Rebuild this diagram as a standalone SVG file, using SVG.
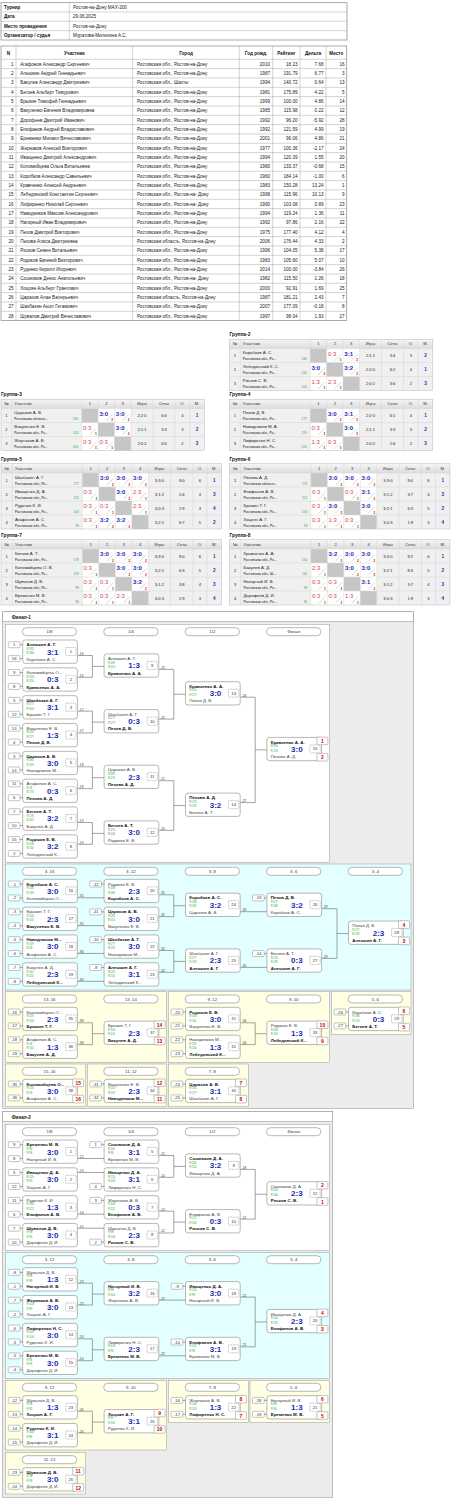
<svg xmlns="http://www.w3.org/2000/svg" width="454" height="1500" viewBox="0 0 454 1500">
<style>
text{font-family:"Liberation Sans",Arial,Helvetica,sans-serif}
.tt{font-size:4.6px;fill:#222}
.th{font-size:4.6px;font-weight:bold;fill:#111}
.e{text-anchor:end}
.m{text-anchor:middle}
.tl{fill:none;stroke:#a8a8a8;stroke-width:0.5}
.to{fill:#fff;stroke:#888;stroke-width:0.7}
.gt{font-size:4.8px;font-weight:bold;fill:#111}
.gh{font-size:4.1px;fill:#333}
.gn{font-size:4.3px;fill:#222}
.gs{font-size:3.1px;font-weight:bold;fill:#555}
.gr{font-size:3.2px;fill:#3a3;text-anchor:end}
.gv{font-size:4.1px;fill:#222;text-anchor:middle}
.gp{font-size:4.6px;font-weight:bold;fill:#2233bb;text-anchor:middle}
.ws{font-size:6px;font-weight:bold;fill:#1e2db5}
.ls{font-size:6px;fill:#d34b4b}
.k2{font-size:3.2px;font-weight:bold;fill:#d00}
.k1{font-size:3.2px;font-weight:bold;fill:#900}
.gb{fill:#f0f0f0}
.gw{fill:#fff}
.dg{fill:#c6c6c6}
.gl{fill:none;stroke:#d6d6d6;stroke-width:0.5}
.go{fill:none;stroke:#bbb;stroke-width:0.5}
.sls{stroke:#999;stroke-width:0.4}
.fr{fill:#ececec;stroke:#999;stroke-width:0.6}
.ftb{fill:#fff;stroke:#999;stroke-width:0.6}
.ft{font-size:4.6px;font-weight:bold;fill:#111}
.sw{fill:#fff;stroke:#999;stroke-width:0.5}
.sc{fill:#e3ffff;stroke:#999;stroke-width:0.5}
.sy{fill:#ffffe3;stroke:#999;stroke-width:0.5}
.mb{fill:#fff;stroke:#888;stroke-width:0.6}
.dx{fill:#fff;stroke:#777;stroke-width:0.45;stroke-dasharray:1 0.6}
.nb{font-size:4.4px;font-weight:bold;fill:#111}
.nn{font-size:4.4px;fill:#444}
.rt{font-size:2.7px;fill:#2a2}
.sco{font-size:8px;font-weight:bold;fill:#1c2cb4;text-anchor:middle}
.mn{font-size:4.2px;fill:#333;text-anchor:middle}
.sd{fill:#fff;stroke:#888;stroke-width:0.5}
.sdt{font-size:4.2px;fill:#333;text-anchor:middle}
.pb{fill:#fff;stroke:#888;stroke-width:0.5}
.pt{font-size:5px;font-weight:bold;fill:#c00;text-anchor:middle}
.cn{fill:none;stroke:#666;stroke-width:0.6}
.lb{font-size:3.2px;fill:#333}
.pill{fill:#fff;stroke:#888;stroke-width:0.6}
.plt{font-size:4.3px;fill:#333;text-anchor:middle}
</style>
<defs>
<linearGradient id="hg" x1="0" y1="0" x2="0" y2="1"><stop offset="0" stop-color="#f6f6f6"/><stop offset="1" stop-color="#dcdcdc"/></linearGradient>
<line id="sl" class="sls" x1="8" y1="12.2" x2="14.3" y2="5.8"/>
<g id="bx"><rect class="mb" width="54.7" height="23.3" rx="2.5"/><rect class="dx" x="43" y="7.5" width="10.3" height="8" rx="0.8"/></g>
<g id="sT"><rect class="sd" x="-14.4" y="1.7" width="11.7" height="6" rx="1"/><line class="cn" x1="-2.7" y1="4.7" x2="0" y2="4.7"/></g>
<g id="sB"><rect class="sd" x="-14.4" y="15.6" width="11.7" height="6" rx="1"/><line class="cn" x1="-2.7" y1="18.6" x2="0" y2="18.6"/></g>
<rect id="pT" class="pb" x="50" y="-0.3" width="11" height="7.6" rx="0.8"/>
<rect id="pB" class="pb" x="50" y="16" width="11" height="7.6" rx="0.8"/>
<rect id="pl" class="pill" width="54.4" height="8" rx="4"/>
</defs>
<rect width="454" height="1500" fill="#fff"/>

<g id="info">
<rect class="to" x="1" y="2.7" width="346" height="37.3"/>
<path class="tl" d="M1 12H347M1 21.3H347M1 30.7H347M69.3 2.7V40"/>
<text class="th" x="4" y="9">Турнир</text><text class="tt" x="73" y="9">Ростов-на-Дону MAX-200</text>
<text class="th" x="4" y="18.3">Дата</text><text class="tt" x="73" y="18.3">29.06.2025</text>
<text class="th" x="4" y="27.7">Место проведения</text><text class="tt" x="73" y="27.7">Ростов-на-Дону</text>
<text class="th" x="4" y="37">Организатор / судья</text><text class="tt" x="73" y="37">Муратова-Милехина А.С.</text>
</g>

<g id="results">
<rect class="to" x="1" y="46" width="345.7" height="274.6"/>
<path class="tl" d="M1 59.3H346.7M1 68.63H346.7M1 77.97H346.7M1 87.3H346.7M1 96.63H346.7M1 105.97H346.7M1 115.3H346.7M1 124.63H346.7M1 133.97H346.7M1 143.3H346.7M1 152.63H346.7M1 161.97H346.7M1 171.3H346.7M1 180.63H346.7M1 189.97H346.7M1 199.3H346.7M1 208.63H346.7M1 217.97H346.7M1 227.3H346.7M1 236.63H346.7M1 245.97H346.7M1 255.3H346.7M1 264.63H346.7M1 273.97H346.7M1 283.3H346.7M1 292.63H346.7M1 301.97H346.7M1 311.3H346.7M16 46V320.6M132.7 46V320.6M239.3 46V320.6M272.7 46V320.6M300 46V320.6M326 46V320.6"/>
<text class="th m" x="8.5" y="54.5">N</text>
<text class="th m" x="74.3" y="54.5">Участник</text>
<text class="th m" x="186" y="54.5">Город</text>
<text class="th m" x="256" y="54.5">Год рожд.</text>
<text class="th m" x="286.3" y="54.5">Рейтинг</text>
<text class="th m" x="313" y="54.5">Дельта</text>
<text class="th m" x="336.3" y="54.5">Место</text>
<text class="tt e"><tspan x="13.5" y="65.6">1</tspan><tspan x="13.5" dy="9.333">2</tspan><tspan x="13.5" dy="9.333">3</tspan><tspan x="13.5" dy="9.333">4</tspan><tspan x="13.5" dy="9.333">5</tspan><tspan x="13.5" dy="9.333">6</tspan><tspan x="13.5" dy="9.333">7</tspan><tspan x="13.5" dy="9.333">8</tspan><tspan x="13.5" dy="9.333">9</tspan><tspan x="13.5" dy="9.333">10</tspan><tspan x="13.5" dy="9.333">11</tspan><tspan x="13.5" dy="9.333">12</tspan><tspan x="13.5" dy="9.333">13</tspan><tspan x="13.5" dy="9.333">14</tspan><tspan x="13.5" dy="9.333">15</tspan><tspan x="13.5" dy="9.333">16</tspan><tspan x="13.5" dy="9.333">17</tspan><tspan x="13.5" dy="9.333">18</tspan><tspan x="13.5" dy="9.333">19</tspan><tspan x="13.5" dy="9.333">20</tspan><tspan x="13.5" dy="9.333">21</tspan><tspan x="13.5" dy="9.333">22</tspan><tspan x="13.5" dy="9.333">23</tspan><tspan x="13.5" dy="9.333">24</tspan><tspan x="13.5" dy="9.333">25</tspan><tspan x="13.5" dy="9.333">26</tspan><tspan x="13.5" dy="9.333">27</tspan><tspan x="13.5" dy="9.333">28</tspan></text>
<text class="tt"><tspan x="20.3" y="65.6">Агафонов Александр Сергеевич</tspan><tspan x="20.3" dy="9.333">Алешкин Андрей Геннадьевич</tspan><tspan x="20.3" dy="9.333">Бакулев Александр Дмитриевич</tspan><tspan x="20.3" dy="9.333">Бегоев Альберт Тимурович</tspan><tspan x="20.3" dy="9.333">Брыкин Тимофей Геннадьевич</tspan><tspan x="20.3" dy="9.333">Вакуленко Евгения Владимировна</tspan><tspan x="20.3" dy="9.333">Дорофеев Дмитрий Иванович</tspan><tspan x="20.3" dy="9.333">Епифанов Андрей Владиславович</tspan><tspan x="20.3" dy="9.333">Еременко Михаил Вячеславович</tspan><tspan x="20.3" dy="9.333">Жернаков Алексей Викторович</tspan><tspan x="20.3" dy="9.333">Иващенко Дмитрий Александрович</tspan><tspan x="20.3" dy="9.333">Коломийцева Ольга Витальевна</tspan><tspan x="20.3" dy="9.333">Коробков Александр Савельевич</tspan><tspan x="20.3" dy="9.333">Кравченко Алексей Андреевич</tspan><tspan x="20.3" dy="9.333">Лебединский Константин Сергеевич</tspan><tspan x="20.3" dy="9.333">Лифиренко Николай Сергеевич</tspan><tspan x="20.3" dy="9.333">Наводников Максим Александрович</tspan><tspan x="20.3" dy="9.333">Нагорный Иван Владимирович</tspan><tspan x="20.3" dy="9.333">Пехов Дмитрий Викторович</tspan><tspan x="20.3" dy="9.333">Пехова Алиса Дмитриевна</tspan><tspan x="20.3" dy="9.333">Рисков Семен Витальевич</tspan><tspan x="20.3" dy="9.333">Родиков Евгений Викторович</tspan><tspan x="20.3" dy="9.333">Руденко Кирилл Игоревич</tspan><tspan x="20.3" dy="9.333">Сошников Денис Анатольевич</tspan><tspan x="20.3" dy="9.333">Хоцоян Альберт Грантович</tspan><tspan x="20.3" dy="9.333">Царахов Алан Валерьевич</tspan><tspan x="20.3" dy="9.333">Шахбазян Ашот Гегамович</tspan><tspan x="20.3" dy="9.333">Шувалов Дмитрий Вячеславович</tspan></text>
<text class="tt"><tspan x="137" y="65.6">Ростовская обл., Ростов-на-Дону</tspan><tspan x="137" dy="9.333">Ростовская обл., Ростов-на-Дону</tspan><tspan x="137" dy="9.333">Ростовская обл., Шахты</tspan><tspan x="137" dy="9.333">Ростовская обл., Ростов-на-Дону</tspan><tspan x="137" dy="9.333">Ростовская обл., Ростов-на-Дону</tspan><tspan x="137" dy="9.333">Ростовская обл., Ростов-на-Дону</tspan><tspan x="137" dy="9.333">Ростовская обл., Ростов-на-Дону</tspan><tspan x="137" dy="9.333">Ростовская обл., Ростов-на-Дону</tspan><tspan x="137" dy="9.333">Ростовская обл., Ростов-на-Дону</tspan><tspan x="137" dy="9.333">Ростовская обл., Ростов-на-Дону</tspan><tspan x="137" dy="9.333">Ростовская обл., Ростов-на-Дону</tspan><tspan x="137" dy="9.333">Ростовская обл., Ростов-на-Дону</tspan><tspan x="137" dy="9.333">Ростовская обл., Ростов-на-Дону</tspan><tspan x="137" dy="9.333">Ростовская обл., Ростов-на-Дону</tspan><tspan x="137" dy="9.333">Ростовская обл., Ростов-на- Дону</tspan><tspan x="137" dy="9.333">Ростовская обл., Ростов-на- Дону</tspan><tspan x="137" dy="9.333">Ростовская обл., Ростов-на-Дону</tspan><tspan x="137" dy="9.333">Ростовская обл., Ростов-на-Дону</tspan><tspan x="137" dy="9.333">Ростовская обл., Ростов-на-Дону</tspan><tspan x="137" dy="9.333">Ростовская область, Ростов-на-Дону</tspan><tspan x="137" dy="9.333">Ростовская обл., Ростов-на-Дону</tspan><tspan x="137" dy="9.333">Ростовская обл., Ростов-на-Дону</tspan><tspan x="137" dy="9.333">Ростовская обл., Ростов-на-Дону</tspan><tspan x="137" dy="9.333">Ростовская обл., Ростов-на- Дону</tspan><tspan x="137" dy="9.333">Ростовская обл., Ростов-на-Дону</tspan><tspan x="137" dy="9.333">Ростовская область, Ростов-на-Дону</tspan><tspan x="137" dy="9.333">Ростовская обл., Ростов-на-Дону</tspan><tspan x="137" dy="9.333">Ростовская обл., Ростов-на-Дону</tspan></text>
<text class="tt e"><tspan x="270" y="65.6">2010</tspan><tspan x="270" dy="9.333">1987</tspan><tspan x="270" dy="9.333">1994</tspan><tspan x="270" dy="9.333">1981</tspan><tspan x="270" dy="9.333">1999</tspan><tspan x="270" dy="9.333">1985</tspan><tspan x="270" dy="9.333">1992</tspan><tspan x="270" dy="9.333">1992</tspan><tspan x="270" dy="9.333">2001</tspan><tspan x="270" dy="9.333">1977</tspan><tspan x="270" dy="9.333">1994</tspan><tspan x="270" dy="9.333">1980</tspan><tspan x="270" dy="9.333">1960</tspan><tspan x="270" dy="9.333">1983</tspan><tspan x="270" dy="9.333">1998</tspan><tspan x="270" dy="9.333">1990</tspan><tspan x="270" dy="9.333">1994</tspan><tspan x="270" dy="9.333">1992</tspan><tspan x="270" dy="9.333">1975</tspan><tspan x="270" dy="9.333">2006</tspan><tspan x="270" dy="9.333">1996</tspan><tspan x="270" dy="9.333">1983</tspan><tspan x="270" dy="9.333">2014</tspan><tspan x="270" dy="9.333">1982</tspan><tspan x="270" dy="9.333">2000</tspan><tspan x="270" dy="9.333">1987</tspan><tspan x="270" dy="9.333">2007</tspan><tspan x="270" dy="9.333">1997</tspan></text>
<text class="tt e"><tspan x="297.5" y="65.6">18.23</tspan><tspan x="297.5" dy="9.333">191.79</tspan><tspan x="297.5" dy="9.333">140.72</tspan><tspan x="297.5" dy="9.333">175.89</tspan><tspan x="297.5" dy="9.333">100.00</tspan><tspan x="297.5" dy="9.333">115.98</tspan><tspan x="297.5" dy="9.333">96.20</tspan><tspan x="297.5" dy="9.333">121.59</tspan><tspan x="297.5" dy="9.333">96.06</tspan><tspan x="297.5" dy="9.333">100.36</tspan><tspan x="297.5" dy="9.333">120.39</tspan><tspan x="297.5" dy="9.333">133.37</tspan><tspan x="297.5" dy="9.333">184.14</tspan><tspan x="297.5" dy="9.333">150.28</tspan><tspan x="297.5" dy="9.333">115.96</tspan><tspan x="297.5" dy="9.333">103.08</tspan><tspan x="297.5" dy="9.333">119.24</tspan><tspan x="297.5" dy="9.333">97.86</tspan><tspan x="297.5" dy="9.333">177.40</tspan><tspan x="297.5" dy="9.333">176.44</tspan><tspan x="297.5" dy="9.333">104.05</tspan><tspan x="297.5" dy="9.333">105.60</tspan><tspan x="297.5" dy="9.333">100.00</tspan><tspan x="297.5" dy="9.333">115.50</tspan><tspan x="297.5" dy="9.333">92.91</tspan><tspan x="297.5" dy="9.333">181.21</tspan><tspan x="297.5" dy="9.333">177.09</tspan><tspan x="297.5" dy="9.333">98.04</tspan></text>
<text class="tt e"><tspan x="323.5" y="65.6">7.68</tspan><tspan x="323.5" dy="9.333">6.77</tspan><tspan x="323.5" dy="9.333">0.64</tspan><tspan x="323.5" dy="9.333">4.22</tspan><tspan x="323.5" dy="9.333">4.86</tspan><tspan x="323.5" dy="9.333">0.22</tspan><tspan x="323.5" dy="9.333">-5.92</tspan><tspan x="323.5" dy="9.333">4.99</tspan><tspan x="323.5" dy="9.333">4.86</tspan><tspan x="323.5" dy="9.333">-2.17</tspan><tspan x="323.5" dy="9.333">1.55</tspan><tspan x="323.5" dy="9.333">-0.68</tspan><tspan x="323.5" dy="9.333">-1.00</tspan><tspan x="323.5" dy="9.333">13.24</tspan><tspan x="323.5" dy="9.333">10.13</tspan><tspan x="323.5" dy="9.333">0.89</tspan><tspan x="323.5" dy="9.333">1.36</tspan><tspan x="323.5" dy="9.333">2.16</tspan><tspan x="323.5" dy="9.333">4.12</tspan><tspan x="323.5" dy="9.333">4.33</tspan><tspan x="323.5" dy="9.333">5.38</tspan><tspan x="323.5" dy="9.333">5.07</tspan><tspan x="323.5" dy="9.333">-3.84</tspan><tspan x="323.5" dy="9.333">1.26</tspan><tspan x="323.5" dy="9.333">1.69</tspan><tspan x="323.5" dy="9.333">2.43</tspan><tspan x="323.5" dy="9.333">-0.18</tspan><tspan x="323.5" dy="9.333">1.93</tspan></text>
<text class="tt e"><tspan x="344.5" y="65.6">16</tspan><tspan x="344.5" dy="9.333">3</tspan><tspan x="344.5" dy="9.333">13</tspan><tspan x="344.5" dy="9.333">5</tspan><tspan x="344.5" dy="9.333">14</tspan><tspan x="344.5" dy="9.333">12</tspan><tspan x="344.5" dy="9.333">28</tspan><tspan x="344.5" dy="9.333">19</tspan><tspan x="344.5" dy="9.333">21</tspan><tspan x="344.5" dy="9.333">24</tspan><tspan x="344.5" dy="9.333">20</tspan><tspan x="344.5" dy="9.333">15</tspan><tspan x="344.5" dy="9.333">6</tspan><tspan x="344.5" dy="9.333">1</tspan><tspan x="344.5" dy="9.333">9</tspan><tspan x="344.5" dy="9.333">23</tspan><tspan x="344.5" dy="9.333">11</tspan><tspan x="344.5" dy="9.333">22</tspan><tspan x="344.5" dy="9.333">4</tspan><tspan x="344.5" dy="9.333">2</tspan><tspan x="344.5" dy="9.333">17</tspan><tspan x="344.5" dy="9.333">10</tspan><tspan x="344.5" dy="9.333">26</tspan><tspan x="344.5" dy="9.333">18</tspan><tspan x="344.5" dy="9.333">25</tspan><tspan x="344.5" dy="9.333">7</tspan><tspan x="344.5" dy="9.333">8</tspan><tspan x="344.5" dy="9.333">27</tspan></text>
</g>

<g id="group2">
<text class="gt" x="229.5" y="336.3">Группа-2</text>
<g transform="translate(229.5 339.3)">
<rect class="gb" width="203.3" height="51.3"/><rect fill="url(#hg)" width="203.3" height="9.3"/>
<rect class="gw" x="80.7" y="9.3" width="49.3" height="42"/>
<rect class="dg" x="80.7" y="9.3" width="16.4" height="14"/><rect class="dg" x="97.1" y="23.3" width="16.4" height="14"/><rect class="dg" x="113.5" y="37.3" width="16.5" height="14"/>
<path class="gl" d="M0 9.3H203.3M0 23.3H203.3M0 37.3H203.3M10.7 0V51.3M80.7 0V51.3M97.1 0V51.3M113.5 0V51.3M130 0V51.3M152 0V51.3M174 0V51.3M188.7 0V51.3"/>
<rect class="go" width="203.3" height="51.3"/>
<text class="gh m" x="5.35" y="6.2">№</text><text class="gh" x="13.3" y="6.2">Участник</text><text class="gh m" x="88.9" y="6.2">1</text><text class="gh m" x="105.3" y="6.2">2</text><text class="gh m" x="121.75" y="6.2">3</text><text class="gh m" x="141" y="6.2">Игры</text><text class="gh m" x="163" y="6.2">Сеты</text><text class="gh m" x="181.35" y="6.2">О.</text><text class="gh m" x="196" y="6.2">М.</text>
<text class="gv" x="5.35" y="18">1</text><text class="gn" x="13.3" y="15.1">Коробков А. С.</text><text class="gs" x="13.3" y="20.9">Ростовская обл., Ро...</text><text class="gr" x="77.2" y="20.9">184</text>
<text class="ls" x="98.4" y="16.3">0:3</text><use href="#sl" x="97.1" y="9.3"/><text class="k1" x="110.3" y="22.1">1</text>
<text class="ws" x="114.8" y="16.3">3:1</text><use href="#sl" x="113.5" y="9.3"/><text class="k2" x="126.7" y="22.1">2</text>
<text class="gv" x="141" y="18">2;1:1</text><text class="gv" x="163" y="18">3:4</text><text class="gv" x="181.35" y="18">3</text><text class="gp" x="196" y="18.2">2</text>
<text class="gv" x="5.35" y="32">2</text><text class="gn" x="13.3" y="29.1">Лебединский К. С.</text><text class="gs" x="13.3" y="34.9">Ростовская обл., Ро...</text><text class="gr" x="77.2" y="34.9">116</text>
<text class="ws" x="82" y="30.3">3:0</text><use href="#sl" x="80.7" y="23.3"/><text class="k2" x="93.9" y="36.1">2</text>
<text class="ws" x="114.8" y="30.3">3:2</text><use href="#sl" x="113.5" y="23.3"/><text class="k2" x="126.7" y="36.1">2</text>
<text class="gv" x="141" y="32">2;2:0</text><text class="gv" x="163" y="32">6:2</text><text class="gv" x="181.35" y="32">4</text><text class="gp" x="196" y="32.2">1</text>
<text class="gv" x="5.35" y="46">3</text><text class="gn" x="13.3" y="43.1">Рисков С. В.</text><text class="gs" x="13.3" y="48.9">Ростовская обл., Ро...</text><text class="gr" x="77.2" y="48.9">104</text>
<text class="ls" x="82" y="44.3">1:3</text><use href="#sl" x="80.7" y="37.3"/><text class="k1" x="93.9" y="50.1">1</text>
<text class="ls" x="98.4" y="44.3">2:3</text><use href="#sl" x="97.1" y="37.3"/><text class="k1" x="110.3" y="50.1">1</text>
<text class="gv" x="141" y="46">2;0:2</text><text class="gv" x="163" y="46">3:6</text><text class="gv" x="181.35" y="46">2</text><text class="gp" x="196" y="46.2">3</text>
</g></g>

<g id="group3">
<text class="gt" x="1" y="396.3">Группа-3</text>
<g transform="translate(1 399.3)">
<rect class="gb" width="203.3" height="51.3"/><rect fill="url(#hg)" width="203.3" height="9.3"/>
<rect class="gw" x="80.7" y="9.3" width="49.3" height="42"/>
<rect class="dg" x="80.7" y="9.3" width="16.4" height="14"/><rect class="dg" x="97.1" y="23.3" width="16.4" height="14"/><rect class="dg" x="113.5" y="37.3" width="16.5" height="14"/>
<path class="gl" d="M0 9.3H203.3M0 23.3H203.3M0 37.3H203.3M10.7 0V51.3M80.7 0V51.3M97.1 0V51.3M113.5 0V51.3M130 0V51.3M152 0V51.3M174 0V51.3M188.7 0V51.3"/>
<rect class="go" width="203.3" height="51.3"/>
<text class="gh m" x="5.35" y="6.2">№</text><text class="gh" x="13.3" y="6.2">Участник</text><text class="gh m" x="88.9" y="6.2">1</text><text class="gh m" x="105.3" y="6.2">2</text><text class="gh m" x="121.75" y="6.2">3</text><text class="gh m" x="141" y="6.2">Игры</text><text class="gh m" x="163" y="6.2">Сеты</text><text class="gh m" x="181.35" y="6.2">О.</text><text class="gh m" x="196" y="6.2">М.</text>
<text class="gv" x="5.35" y="18">1</text><text class="gn" x="13.3" y="15.1">Царахов А. В.</text><text class="gs" x="13.3" y="20.9">Ростовская область...</text><text class="gr" x="77.2" y="20.9">181</text>
<text class="ws" x="98.4" y="16.3">3:0</text><use href="#sl" x="97.1" y="9.3"/><text class="k2" x="110.3" y="22.1">2</text>
<text class="ws" x="114.8" y="16.3">3:0</text><use href="#sl" x="113.5" y="9.3"/><text class="k2" x="126.7" y="22.1">2</text>
<text class="gv" x="141" y="18">2;2:0</text><text class="gv" x="163" y="18">6:0</text><text class="gv" x="181.35" y="18">4</text><text class="gp" x="196" y="18.2">1</text>
<text class="gv" x="5.35" y="32">2</text><text class="gn" x="13.3" y="29.1">Вакуленко Е. В.</text><text class="gs" x="13.3" y="34.9">Ростовская обл., Ро...</text><text class="gr" x="77.2" y="34.9">116</text>
<text class="ls" x="82" y="30.3">0:3</text><use href="#sl" x="80.7" y="23.3"/><text class="k1" x="93.9" y="36.1">1</text>
<text class="ws" x="114.8" y="30.3">3:0</text><use href="#sl" x="113.5" y="23.3"/><text class="k2" x="126.7" y="36.1">2</text>
<text class="gv" x="141" y="32">2;1:1</text><text class="gv" x="163" y="32">3:3</text><text class="gv" x="181.35" y="32">3</text><text class="gp" x="196" y="32.2">2</text>
<text class="gv" x="5.35" y="46">3</text><text class="gn" x="13.3" y="43.1">Жернаков А. В.</text><text class="gs" x="13.3" y="48.9">Ростовская обл., Ро...</text><text class="gr" x="77.2" y="48.9">100</text>
<text class="ls" x="82" y="44.3">0:3</text><use href="#sl" x="80.7" y="37.3"/><text class="k1" x="93.9" y="50.1">1</text>
<text class="ls" x="98.4" y="44.3">0:3</text><use href="#sl" x="97.1" y="37.3"/><text class="k1" x="110.3" y="50.1">1</text>
<text class="gv" x="141" y="46">2;0:2</text><text class="gv" x="163" y="46">0:6</text><text class="gv" x="181.35" y="46">2</text><text class="gp" x="196" y="46.2">3</text>
</g></g>

<g id="group4">
<text class="gt" x="229.5" y="396.3">Группа-4</text>
<g transform="translate(229.5 399.3)">
<rect class="gb" width="203.3" height="51.3"/><rect fill="url(#hg)" width="203.3" height="9.3"/>
<rect class="gw" x="80.7" y="9.3" width="49.3" height="42"/>
<rect class="dg" x="80.7" y="9.3" width="16.4" height="14"/><rect class="dg" x="97.1" y="23.3" width="16.4" height="14"/><rect class="dg" x="113.5" y="37.3" width="16.5" height="14"/>
<path class="gl" d="M0 9.3H203.3M0 23.3H203.3M0 37.3H203.3M10.7 0V51.3M80.7 0V51.3M97.1 0V51.3M113.5 0V51.3M130 0V51.3M152 0V51.3M174 0V51.3M188.7 0V51.3"/>
<rect class="go" width="203.3" height="51.3"/>
<text class="gh m" x="5.35" y="6.2">№</text><text class="gh" x="13.3" y="6.2">Участник</text><text class="gh m" x="88.9" y="6.2">1</text><text class="gh m" x="105.3" y="6.2">2</text><text class="gh m" x="121.75" y="6.2">3</text><text class="gh m" x="141" y="6.2">Игры</text><text class="gh m" x="163" y="6.2">Сеты</text><text class="gh m" x="181.35" y="6.2">О.</text><text class="gh m" x="196" y="6.2">М.</text>
<text class="gv" x="5.35" y="18">1</text><text class="gn" x="13.3" y="15.1">Пехов Д. В.</text><text class="gs" x="13.3" y="20.9">Ростовская обл., Ро...</text><text class="gr" x="77.2" y="20.9">177</text>
<text class="ws" x="98.4" y="16.3">3:0</text><use href="#sl" x="97.1" y="9.3"/><text class="k2" x="110.3" y="22.1">2</text>
<text class="ws" x="114.8" y="16.3">3:1</text><use href="#sl" x="113.5" y="9.3"/><text class="k2" x="126.7" y="22.1">2</text>
<text class="gv" x="141" y="18">2;2:0</text><text class="gv" x="163" y="18">6:1</text><text class="gv" x="181.35" y="18">4</text><text class="gp" x="196" y="18.2">1</text>
<text class="gv" x="5.35" y="32">2</text><text class="gn" x="13.3" y="29.1">Наводников М. А.</text><text class="gs" x="13.3" y="34.9">Ростовская обл., Ро...</text><text class="gr" x="77.2" y="34.9">119</text>
<text class="ls" x="82" y="30.3">0:3</text><use href="#sl" x="80.7" y="23.3"/><text class="k1" x="93.9" y="36.1">1</text>
<text class="ws" x="114.8" y="30.3">3:0</text><use href="#sl" x="113.5" y="23.3"/><text class="k2" x="126.7" y="36.1">2</text>
<text class="gv" x="141" y="32">2;1:1</text><text class="gv" x="163" y="32">3:3</text><text class="gv" x="181.35" y="32">3</text><text class="gp" x="196" y="32.2">2</text>
<text class="gv" x="5.35" y="46">3</text><text class="gn" x="13.3" y="43.1">Лифиренко Н. С.</text><text class="gs" x="13.3" y="48.9">Ростовская обл., Ро...</text><text class="gr" x="77.2" y="48.9">103</text>
<text class="ls" x="82" y="44.3">1:3</text><use href="#sl" x="80.7" y="37.3"/><text class="k1" x="93.9" y="50.1">1</text>
<text class="ls" x="98.4" y="44.3">0:3</text><use href="#sl" x="97.1" y="37.3"/><text class="k1" x="110.3" y="50.1">1</text>
<text class="gv" x="141" y="46">2;0:2</text><text class="gv" x="163" y="46">1:6</text><text class="gv" x="181.35" y="46">2</text><text class="gp" x="196" y="46.2">3</text>
</g></g>

<g id="group5">
<text class="gt" x="1" y="460.6">Группа-5</text>
<g transform="translate(1 463.7)">
<rect class="gb" width="220.5" height="65.3"/><rect fill="url(#hg)" width="220.5" height="9.3"/>
<rect class="gw" x="81.3" y="9.3" width="66" height="56"/>
<rect class="dg" x="81.3" y="9.3" width="16.5" height="14"/><rect class="dg" x="97.8" y="23.3" width="16.5" height="14"/><rect class="dg" x="114.3" y="37.3" width="16.5" height="14"/><rect class="dg" x="130.8" y="51.3" width="16.5" height="14"/>
<path class="gl" d="M0 9.3H220.5M0 23.3H220.5M0 37.3H220.5M0 51.3H220.5M11.3 0V65.3M81.3 0V65.3M97.8 0V65.3M114.3 0V65.3M130.8 0V65.3M147.3 0V65.3M169.5 0V65.3M192 0V65.3M206 0V65.3"/>
<rect class="go" width="220.5" height="65.3"/>
<text class="gh m" x="5.65" y="6.2">№</text><text class="gh" x="13.9" y="6.2">Участник</text><text class="gh m" x="89.55" y="6.2">1</text><text class="gh m" x="106.05" y="6.2">2</text><text class="gh m" x="122.55" y="6.2">3</text><text class="gh m" x="139.05" y="6.2">4</text><text class="gh m" x="158.4" y="6.2">Игры</text><text class="gh m" x="180.75" y="6.2">Сеты</text><text class="gh m" x="199" y="6.2">О.</text><text class="gh m" x="213.25" y="6.2">М.</text>
<text class="gv" x="5.65" y="18">1</text><text class="gn" x="13.9" y="15.1">Шахбазян А. Г.</text><text class="gs" x="13.9" y="20.9">Ростовская обл., Ро...</text><text class="gr" x="77.8" y="20.9">177</text>
<text class="ws" x="99.1" y="16.3">3:0</text><use href="#sl" x="97.8" y="9.3"/><text class="k2" x="111" y="22.1">2</text>
<text class="ws" x="115.6" y="16.3">3:0</text><use href="#sl" x="114.3" y="9.3"/><text class="k2" x="127.5" y="22.1">2</text>
<text class="ws" x="132.1" y="16.3">3:0</text><use href="#sl" x="130.8" y="9.3"/><text class="k2" x="144" y="22.1">2</text>
<text class="gv" x="158.4" y="18">3;3:0</text><text class="gv" x="180.75" y="18">9:0</text><text class="gv" x="199" y="18">6</text><text class="gp" x="213.25" y="18.2">1</text>
<text class="gv" x="5.65" y="32">2</text><text class="gn" x="13.9" y="29.1">Иващенко Д. А.</text><text class="gs" x="13.9" y="34.9">Ростовская обл., Ро...</text><text class="gr" x="77.8" y="34.9">120</text>
<text class="ls" x="82.6" y="30.3">0:3</text><use href="#sl" x="81.3" y="23.3"/><text class="k1" x="94.5" y="36.1">1</text>
<text class="ws" x="115.6" y="30.3">3:0</text><use href="#sl" x="114.3" y="23.3"/><text class="k2" x="127.5" y="36.1">2</text>
<text class="ls" x="132.1" y="30.3">2:3</text><use href="#sl" x="130.8" y="23.3"/><text class="k1" x="144" y="36.1">1</text>
<text class="gv" x="158.4" y="32">3;1:2</text><text class="gv" x="180.75" y="32">5:6</text><text class="gv" x="199" y="32">4</text><text class="gp" x="213.25" y="32.2">3</text>
<text class="gv" x="5.65" y="46">3</text><text class="gn" x="13.9" y="43.1">Руденко К. И.</text><text class="gs" x="13.9" y="48.9">Ростовская обл., Ро...</text><text class="gr" x="77.8" y="48.9">100</text>
<text class="ls" x="82.6" y="44.3">0:3</text><use href="#sl" x="81.3" y="37.3"/><text class="k1" x="94.5" y="50.1">1</text>
<text class="ls" x="99.1" y="44.3">0:3</text><use href="#sl" x="97.8" y="37.3"/><text class="k1" x="111" y="50.1">1</text>
<text class="ls" x="132.1" y="44.3">2:3</text><use href="#sl" x="130.8" y="37.3"/><text class="k1" x="144" y="50.1">1</text>
<text class="gv" x="158.4" y="46">3;0:3</text><text class="gv" x="180.75" y="46">2:9</text><text class="gv" x="199" y="46">3</text><text class="gp" x="213.25" y="46.2">4</text>
<text class="gv" x="5.65" y="60">4</text><text class="gn" x="13.9" y="57.1">Агафонов А. С.</text><text class="gs" x="13.9" y="62.9">Ростовская обл., Ро...</text><text class="gr" x="77.8" y="62.9">18</text>
<text class="ls" x="82.6" y="58.3">0:3</text><use href="#sl" x="81.3" y="51.3"/><text class="k1" x="94.5" y="64.1">1</text>
<text class="ws" x="99.1" y="58.3">3:2</text><use href="#sl" x="97.8" y="51.3"/><text class="k2" x="111" y="64.1">2</text>
<text class="ws" x="115.6" y="58.3">3:2</text><use href="#sl" x="114.3" y="51.3"/><text class="k2" x="127.5" y="64.1">2</text>
<text class="gv" x="158.4" y="60">3;2:1</text><text class="gv" x="180.75" y="60">6:7</text><text class="gv" x="199" y="60">5</text><text class="gp" x="213.25" y="60.2">2</text>
</g></g>

<g id="group6">
<text class="gt" x="229.5" y="460.6">Группа-6</text>
<g transform="translate(229.5 463.7)">
<rect class="gb" width="220.5" height="65.3"/><rect fill="url(#hg)" width="220.5" height="9.3"/>
<rect class="gw" x="81.3" y="9.3" width="66" height="56"/>
<rect class="dg" x="81.3" y="9.3" width="16.5" height="14"/><rect class="dg" x="97.8" y="23.3" width="16.5" height="14"/><rect class="dg" x="114.3" y="37.3" width="16.5" height="14"/><rect class="dg" x="130.8" y="51.3" width="16.5" height="14"/>
<path class="gl" d="M0 9.3H220.5M0 23.3H220.5M0 37.3H220.5M0 51.3H220.5M11.3 0V65.3M81.3 0V65.3M97.8 0V65.3M114.3 0V65.3M130.8 0V65.3M147.3 0V65.3M169.5 0V65.3M192 0V65.3M206 0V65.3"/>
<rect class="go" width="220.5" height="65.3"/>
<text class="gh m" x="5.65" y="6.2">№</text><text class="gh" x="13.9" y="6.2">Участник</text><text class="gh m" x="89.55" y="6.2">1</text><text class="gh m" x="106.05" y="6.2">2</text><text class="gh m" x="122.55" y="6.2">3</text><text class="gh m" x="139.05" y="6.2">4</text><text class="gh m" x="158.4" y="6.2">Игры</text><text class="gh m" x="180.75" y="6.2">Сеты</text><text class="gh m" x="199" y="6.2">О.</text><text class="gh m" x="213.25" y="6.2">М.</text>
<text class="gv" x="5.65" y="18">1</text><text class="gn" x="13.9" y="15.1">Пехова А. Д.</text><text class="gs" x="13.9" y="20.9">Ростовская область...</text><text class="gr" x="77.8" y="20.9">176</text>
<text class="ws" x="99.1" y="16.3">3:0</text><use href="#sl" x="97.8" y="9.3"/><text class="k2" x="111" y="22.1">2</text>
<text class="ws" x="115.6" y="16.3">3:0</text><use href="#sl" x="114.3" y="9.3"/><text class="k2" x="127.5" y="22.1">2</text>
<text class="ws" x="132.1" y="16.3">3:0</text><use href="#sl" x="130.8" y="9.3"/><text class="k2" x="144" y="22.1">2</text>
<text class="gv" x="158.4" y="18">3;3:0</text><text class="gv" x="180.75" y="18">9:0</text><text class="gv" x="199" y="18">6</text><text class="gp" x="213.25" y="18.2">1</text>
<text class="gv" x="5.65" y="32">2</text><text class="gn" x="13.9" y="29.1">Епифанов А. В.</text><text class="gs" x="13.9" y="34.9">Ростовская обл., Ро...</text><text class="gr" x="77.8" y="34.9">122</text>
<text class="ls" x="82.6" y="30.3">0:3</text><use href="#sl" x="81.3" y="23.3"/><text class="k1" x="94.5" y="36.1">1</text>
<text class="ls" x="115.6" y="30.3">0:3</text><use href="#sl" x="114.3" y="23.3"/><text class="k1" x="127.5" y="36.1">1</text>
<text class="ws" x="132.1" y="30.3">3:1</text><use href="#sl" x="130.8" y="23.3"/><text class="k2" x="144" y="36.1">2</text>
<text class="gv" x="158.4" y="32">3;1:2</text><text class="gv" x="180.75" y="32">3:7</text><text class="gv" x="199" y="32">4</text><text class="gp" x="213.25" y="32.2">3</text>
<text class="gv" x="5.65" y="46">3</text><text class="gn" x="13.9" y="43.1">Брыкин Т. Г.</text><text class="gs" x="13.9" y="48.9">Ростовская обл., Ро...</text><text class="gr" x="77.8" y="48.9">100</text>
<text class="ls" x="82.6" y="44.3">0:3</text><use href="#sl" x="81.3" y="37.3"/><text class="k1" x="94.5" y="50.1">1</text>
<text class="ws" x="99.1" y="44.3">3:0</text><use href="#sl" x="97.8" y="37.3"/><text class="k2" x="111" y="50.1">2</text>
<text class="ws" x="132.1" y="44.3">3:0</text><use href="#sl" x="130.8" y="37.3"/><text class="k2" x="144" y="50.1">2</text>
<text class="gv" x="158.4" y="46">3;2:1</text><text class="gv" x="180.75" y="46">6:3</text><text class="gv" x="199" y="46">5</text><text class="gp" x="213.25" y="46.2">2</text>
<text class="gv" x="5.65" y="60">4</text><text class="gn" x="13.9" y="57.1">Хоцоян А. Г.</text><text class="gs" x="13.9" y="62.9">Ростовская обл., Ро...</text><text class="gr" x="77.8" y="62.9">93</text>
<text class="ls" x="82.6" y="58.3">0:3</text><use href="#sl" x="81.3" y="51.3"/><text class="k1" x="94.5" y="64.1">1</text>
<text class="ls" x="99.1" y="58.3">1:3</text><use href="#sl" x="97.8" y="51.3"/><text class="k1" x="111" y="64.1">1</text>
<text class="ls" x="115.6" y="58.3">0:3</text><use href="#sl" x="114.3" y="51.3"/><text class="k1" x="127.5" y="64.1">1</text>
<text class="gv" x="158.4" y="60">3;0:3</text><text class="gv" x="180.75" y="60">1:9</text><text class="gv" x="199" y="60">3</text><text class="gp" x="213.25" y="60.2">4</text>
</g></g>

<g id="group7">
<text class="gt" x="1" y="536.7">Группа-7</text>
<g transform="translate(1 539.7)">
<rect class="gb" width="220.5" height="65.3"/><rect fill="url(#hg)" width="220.5" height="9.3"/>
<rect class="gw" x="81.3" y="9.3" width="66" height="56"/>
<rect class="dg" x="81.3" y="9.3" width="16.5" height="14"/><rect class="dg" x="97.8" y="23.3" width="16.5" height="14"/><rect class="dg" x="114.3" y="37.3" width="16.5" height="14"/><rect class="dg" x="130.8" y="51.3" width="16.5" height="14"/>
<path class="gl" d="M0 9.3H220.5M0 23.3H220.5M0 37.3H220.5M0 51.3H220.5M11.3 0V65.3M81.3 0V65.3M97.8 0V65.3M114.3 0V65.3M130.8 0V65.3M147.3 0V65.3M169.5 0V65.3M192 0V65.3M206 0V65.3"/>
<rect class="go" width="220.5" height="65.3"/>
<text class="gh m" x="5.65" y="6.2">№</text><text class="gh" x="13.9" y="6.2">Участник</text><text class="gh m" x="89.55" y="6.2">1</text><text class="gh m" x="106.05" y="6.2">2</text><text class="gh m" x="122.55" y="6.2">3</text><text class="gh m" x="139.05" y="6.2">4</text><text class="gh m" x="158.4" y="6.2">Игры</text><text class="gh m" x="180.75" y="6.2">Сеты</text><text class="gh m" x="199" y="6.2">О.</text><text class="gh m" x="213.25" y="6.2">М.</text>
<text class="gv" x="5.65" y="18">1</text><text class="gn" x="13.9" y="15.1">Бегоев А. Т.</text><text class="gs" x="13.9" y="20.9">Ростовская обл., Ро...</text><text class="gr" x="77.8" y="20.9">176</text>
<text class="ws" x="99.1" y="16.3">3:0</text><use href="#sl" x="97.8" y="9.3"/><text class="k2" x="111" y="22.1">2</text>
<text class="ws" x="115.6" y="16.3">3:0</text><use href="#sl" x="114.3" y="9.3"/><text class="k2" x="127.5" y="22.1">2</text>
<text class="ws" x="132.1" y="16.3">3:0</text><use href="#sl" x="130.8" y="9.3"/><text class="k2" x="144" y="22.1">2</text>
<text class="gv" x="158.4" y="18">3;3:0</text><text class="gv" x="180.75" y="18">9:0</text><text class="gv" x="199" y="18">6</text><text class="gp" x="213.25" y="18.2">1</text>
<text class="gv" x="5.65" y="32">2</text><text class="gn" x="13.9" y="29.1">Коломийцева О. В.</text><text class="gs" x="13.9" y="34.9">Ростовская обл., Ро...</text><text class="gr" x="77.8" y="34.9">133</text>
<text class="ls" x="82.6" y="30.3">0:3</text><use href="#sl" x="81.3" y="23.3"/><text class="k1" x="94.5" y="36.1">1</text>
<text class="ws" x="115.6" y="30.3">3:0</text><use href="#sl" x="114.3" y="23.3"/><text class="k2" x="127.5" y="36.1">2</text>
<text class="ws" x="132.1" y="30.3">3:0</text><use href="#sl" x="130.8" y="23.3"/><text class="k2" x="144" y="36.1">2</text>
<text class="gv" x="158.4" y="32">3;2:1</text><text class="gv" x="180.75" y="32">6:3</text><text class="gv" x="199" y="32">5</text><text class="gp" x="213.25" y="32.2">2</text>
<text class="gv" x="5.65" y="46">3</text><text class="gn" x="13.9" y="43.1">Шувалов Д. В.</text><text class="gs" x="13.9" y="48.9">Ростовская обл., Ро...</text><text class="gr" x="77.8" y="48.9">98</text>
<text class="ls" x="82.6" y="44.3">0:3</text><use href="#sl" x="81.3" y="37.3"/><text class="k1" x="94.5" y="50.1">1</text>
<text class="ls" x="99.1" y="44.3">0:3</text><use href="#sl" x="97.8" y="37.3"/><text class="k1" x="111" y="50.1">1</text>
<text class="ws" x="132.1" y="44.3">3:2</text><use href="#sl" x="130.8" y="37.3"/><text class="k2" x="144" y="50.1">2</text>
<text class="gv" x="158.4" y="46">3;1:2</text><text class="gv" x="180.75" y="46">3:8</text><text class="gv" x="199" y="46">4</text><text class="gp" x="213.25" y="46.2">3</text>
<text class="gv" x="5.65" y="60">4</text><text class="gn" x="13.9" y="57.1">Еременко М. В.</text><text class="gs" x="13.9" y="62.9">Ростовская обл., Ро...</text><text class="gr" x="77.8" y="62.9">96</text>
<text class="ls" x="82.6" y="58.3">0:3</text><use href="#sl" x="81.3" y="51.3"/><text class="k1" x="94.5" y="64.1">1</text>
<text class="ls" x="99.1" y="58.3">0:3</text><use href="#sl" x="97.8" y="51.3"/><text class="k1" x="111" y="64.1">1</text>
<text class="ls" x="115.6" y="58.3">2:3</text><use href="#sl" x="114.3" y="51.3"/><text class="k1" x="127.5" y="64.1">1</text>
<text class="gv" x="158.4" y="60">3;0:3</text><text class="gv" x="180.75" y="60">2:9</text><text class="gv" x="199" y="60">3</text><text class="gp" x="213.25" y="60.2">4</text>
</g></g>

<g id="group8">
<text class="gt" x="229.5" y="536.7">Группа-8</text>
<g transform="translate(229.5 539.7)">
<rect class="gb" width="220.5" height="65.3"/><rect fill="url(#hg)" width="220.5" height="9.3"/>
<rect class="gw" x="81.3" y="9.3" width="66" height="56"/>
<rect class="dg" x="81.3" y="9.3" width="16.5" height="14"/><rect class="dg" x="97.8" y="23.3" width="16.5" height="14"/><rect class="dg" x="114.3" y="37.3" width="16.5" height="14"/><rect class="dg" x="130.8" y="51.3" width="16.5" height="14"/>
<path class="gl" d="M0 9.3H220.5M0 23.3H220.5M0 37.3H220.5M0 51.3H220.5M11.3 0V65.3M81.3 0V65.3M97.8 0V65.3M114.3 0V65.3M130.8 0V65.3M147.3 0V65.3M169.5 0V65.3M192 0V65.3M206 0V65.3"/>
<rect class="go" width="220.5" height="65.3"/>
<text class="gh m" x="5.65" y="6.2">№</text><text class="gh" x="13.9" y="6.2">Участник</text><text class="gh m" x="89.55" y="6.2">1</text><text class="gh m" x="106.05" y="6.2">2</text><text class="gh m" x="122.55" y="6.2">3</text><text class="gh m" x="139.05" y="6.2">4</text><text class="gh m" x="158.4" y="6.2">Игры</text><text class="gh m" x="180.75" y="6.2">Сеты</text><text class="gh m" x="199" y="6.2">О.</text><text class="gh m" x="213.25" y="6.2">М.</text>
<text class="gv" x="5.65" y="18">1</text><text class="gn" x="13.9" y="15.1">Кравченко А. А.</text><text class="gs" x="13.9" y="20.9">Ростовская обл., Ро...</text><text class="gr" x="77.8" y="20.9">150</text>
<text class="ws" x="99.1" y="16.3">3:2</text><use href="#sl" x="97.8" y="9.3"/><text class="k2" x="111" y="22.1">2</text>
<text class="ws" x="115.6" y="16.3">3:0</text><use href="#sl" x="114.3" y="9.3"/><text class="k2" x="127.5" y="22.1">2</text>
<text class="ws" x="132.1" y="16.3">3:0</text><use href="#sl" x="130.8" y="9.3"/><text class="k2" x="144" y="22.1">2</text>
<text class="gv" x="158.4" y="18">3;3:0</text><text class="gv" x="180.75" y="18">9:2</text><text class="gv" x="199" y="18">6</text><text class="gp" x="213.25" y="18.2">1</text>
<text class="gv" x="5.65" y="32">2</text><text class="gn" x="13.9" y="29.1">Бакулев А. Д.</text><text class="gs" x="13.9" y="34.9">Ростовская обл., Ш...</text><text class="gr" x="77.8" y="34.9">141</text>
<text class="ls" x="82.6" y="30.3">2:3</text><use href="#sl" x="81.3" y="23.3"/><text class="k1" x="94.5" y="36.1">1</text>
<text class="ws" x="115.6" y="30.3">3:0</text><use href="#sl" x="114.3" y="23.3"/><text class="k2" x="127.5" y="36.1">2</text>
<text class="ws" x="132.1" y="30.3">3:0</text><use href="#sl" x="130.8" y="23.3"/><text class="k2" x="144" y="36.1">2</text>
<text class="gv" x="158.4" y="32">3;2:1</text><text class="gv" x="180.75" y="32">8:3</text><text class="gv" x="199" y="32">5</text><text class="gp" x="213.25" y="32.2">2</text>
<text class="gv" x="5.65" y="46">3</text><text class="gn" x="13.9" y="43.1">Нагорный И. В.</text><text class="gs" x="13.9" y="48.9">Ростовская обл., Ро...</text><text class="gr" x="77.8" y="48.9">98</text>
<text class="ls" x="82.6" y="44.3">0:3</text><use href="#sl" x="81.3" y="37.3"/><text class="k1" x="94.5" y="50.1">1</text>
<text class="ls" x="99.1" y="44.3">0:3</text><use href="#sl" x="97.8" y="37.3"/><text class="k1" x="111" y="50.1">1</text>
<text class="ws" x="132.1" y="44.3">3:1</text><use href="#sl" x="130.8" y="37.3"/><text class="k2" x="144" y="50.1">2</text>
<text class="gv" x="158.4" y="46">3;1:2</text><text class="gv" x="180.75" y="46">3:7</text><text class="gv" x="199" y="46">4</text><text class="gp" x="213.25" y="46.2">3</text>
<text class="gv" x="5.65" y="60">4</text><text class="gn" x="13.9" y="57.1">Дорофеев Д. И.</text><text class="gs" x="13.9" y="62.9">Ростовская обл., Ро...</text><text class="gr" x="77.8" y="62.9">96</text>
<text class="ls" x="82.6" y="58.3">0:3</text><use href="#sl" x="81.3" y="51.3"/><text class="k1" x="94.5" y="64.1">1</text>
<text class="ls" x="99.1" y="58.3">0:3</text><use href="#sl" x="97.8" y="51.3"/><text class="k1" x="111" y="64.1">1</text>
<text class="ls" x="115.6" y="58.3">1:3</text><use href="#sl" x="114.3" y="51.3"/><text class="k1" x="127.5" y="64.1">1</text>
<text class="gv" x="158.4" y="60">3;0:3</text><text class="gv" x="180.75" y="60">1:9</text><text class="gv" x="199" y="60">3</text><text class="gp" x="213.25" y="60.2">4</text>
</g></g>

<g id="final1-frame">
<rect class="fr" x="2.7" y="611.7" width="410.6" height="496.6"/>
<rect class="ftb" x="2.7" y="611.7" width="410.6" height="10"/>
<text class="ft" x="11.7" y="618.6">Финал-1</text>
<rect class="sw" x="5.7" y="624.3" width="323.6" height="238"/>
<rect class="sc" x="5.7" y="864" width="405.3" height="126"/>
<rect class="sy" x="5.7" y="991.7" width="161" height="70.6"/>
<rect class="sy" x="168.3" y="991.7" width="161" height="70.6"/>
<rect class="sy" x="331.7" y="991.7" width="79.3" height="42.6"/>
<rect class="sy" x="5.7" y="1064" width="80" height="42.3"/>
<rect class="sy" x="87.3" y="1064" width="79.4" height="42.3"/>
<rect class="sy" x="168.3" y="1064" width="80" height="42.3"/>
<use href="#pl" x="22.3" y="627.7"/><text class="plt" x="49.5" y="633.3">1/8</text>
<use href="#pl" x="103.7" y="627.7"/><text class="plt" x="130.9" y="633.3">1/4</text>
<use href="#pl" x="185.1" y="627.7"/><text class="plt" x="212.3" y="633.3">1/2</text>
<use href="#pl" x="266.5" y="627.7"/><text class="plt" x="293.7" y="633.3">Финал</text>
<use href="#pl" x="22.3" y="867.3"/><text class="plt" x="49.5" y="872.9">3..16</text>
<use href="#pl" x="103.7" y="867.3"/><text class="plt" x="130.9" y="872.9">3..12</text>
<use href="#pl" x="185.1" y="867.3"/><text class="plt" x="212.3" y="872.9">3..8</text>
<use href="#pl" x="266.5" y="867.3"/><text class="plt" x="293.7" y="872.9">3..6</text>
<use href="#pl" x="348.1" y="867.3"/><text class="plt" x="375.3" y="872.9">3..4</text>
<use href="#pl" x="22.3" y="995"/><text class="plt" x="49.5" y="1000.6">13..16</text>
<use href="#pl" x="103.7" y="995"/><text class="plt" x="130.9" y="1000.6">13..14</text>
<use href="#pl" x="185.1" y="995"/><text class="plt" x="212.3" y="1000.6">9..12</text>
<use href="#pl" x="266.5" y="995"/><text class="plt" x="293.7" y="1000.6">9..10</text>
<use href="#pl" x="348.1" y="995"/><text class="plt" x="375.3" y="1000.6">5..6</text>
<use href="#pl" x="22.3" y="1067.3"/><text class="plt" x="49.5" y="1072.9">15..16</text>
<use href="#pl" x="103.7" y="1067.3"/><text class="plt" x="130.9" y="1072.9">11..12</text>
<use href="#pl" x="185.1" y="1067.3"/><text class="plt" x="212.3" y="1072.9">7..8</text>
</g>

<g id="final2-frame">
<rect class="fr" x="2.7" y="1111.7" width="330" height="385.6"/>
<rect class="ftb" x="2.7" y="1111.7" width="330" height="10"/>
<text class="ft" x="11.7" y="1118.6">Финал-2</text>
<rect class="sw" x="5.7" y="1124.3" width="323.6" height="126.4"/>
<rect class="sc" x="5.7" y="1252.3" width="323.6" height="126"/>
<rect class="sy" x="5.7" y="1380.3" width="161" height="69.7"/>
<rect class="sy" x="168.3" y="1380.3" width="80" height="42"/>
<rect class="sy" x="250" y="1380.3" width="79.3" height="42"/>
<rect class="sy" x="5.7" y="1452.3" width="80" height="41.7"/>
<use href="#pl" x="22.3" y="1127.7"/><text class="plt" x="49.5" y="1133.3">1/8</text>
<use href="#pl" x="103.7" y="1127.7"/><text class="plt" x="130.9" y="1133.3">1/4</text>
<use href="#pl" x="185.1" y="1127.7"/><text class="plt" x="212.3" y="1133.3">1/2</text>
<use href="#pl" x="266.5" y="1127.7"/><text class="plt" x="293.7" y="1133.3">Финал</text>
<use href="#pl" x="22.3" y="1255.7"/><text class="plt" x="49.5" y="1261.3">3..12</text>
<use href="#pl" x="103.7" y="1255.7"/><text class="plt" x="130.9" y="1261.3">3..8</text>
<use href="#pl" x="185.1" y="1255.7"/><text class="plt" x="212.3" y="1261.3">3..6</text>
<use href="#pl" x="266.5" y="1255.7"/><text class="plt" x="293.7" y="1261.3">3..4</text>
<use href="#pl" x="22.3" y="1383.3"/><text class="plt" x="49.5" y="1388.9">9..12</text>
<use href="#pl" x="103.7" y="1383.3"/><text class="plt" x="130.9" y="1388.9">9..10</text>
<use href="#pl" x="185.1" y="1383.3"/><text class="plt" x="212.3" y="1388.9">7..8</text>
<use href="#pl" x="266.5" y="1383.3"/><text class="plt" x="293.7" y="1388.9">5..6</text>
<use href="#pl" x="22.3" y="1455.7"/><text class="plt" x="49.5" y="1461.3">11..12</text>
</g>

<g id="connectors">
<path class="cn" d="M77.4 655.5H92.4V677.33H77.4M92.4 666.4H104.1M77.4 711.16H92.4V732.99H77.4M92.4 722.1H104.1M77.4 766.82H92.4V788.65H77.4M92.4 777.7H104.1M77.4 822.48H92.4V844.31H77.4M92.4 833.4H104.1M158.8 669.4H173.8V719.1H158.8M173.8 694.25H185.5M158.8 780.7H173.8V830.4H158.8M173.8 805.55H185.5M240.2 697.2H255.2V802.6H240.2M255.2 749.9H266.9"/>
<path class="cn" d="M77.4 897.8H104.1M77.4 925.63H104.1M77.4 953.46H104.1M77.4 981.29H104.1M158.8 894.8H173.8V916.63H158.8M173.8 905.7H185.5M158.8 950.46H173.8V972.29H158.8M173.8 961.4H185.5M240.2 911.7H266.9M240.2 967.4H266.9M321.6 908.7H337V958.4H321.6M337 933.55H348.5"/>
<path class="cn" d="M77.4 1022.8H92.4V1044.63H77.4M92.4 1033.7H104.1M240.2 1022.8H255.2V1044.63H240.2M255.2 1033.7H266.9"/>
<path class="cn" d="M77.4 1158.5H104.1M77.4 1172.53H104.1M77.4 1214.16H104.1M77.4 1228.19H104.1M158.8 1155.5H173.8V1177.33H158.8M173.8 1166.4H185.5M158.8 1211.16H173.8V1232.99H158.8M173.8 1222.1H185.5M240.2 1169.4H255.2V1219.1H240.2M255.2 1194.25H266.9"/>
<path class="cn" d="M77.4 1283.2H92.4V1305.03H77.4M92.4 1294.1H104.1M77.4 1338.86H92.4V1360.69H77.4M92.4 1349.8H104.1M158.8 1300.1H185.5M158.8 1355.8H185.5M240.2 1297.1H255.2V1346.8H240.2M255.2 1321.95H266.9M77.4 1411.2H92.4V1433.03H77.4M92.4 1422.1H104.1"/>
<text class="lb" x="78.8" y="655">-16</text><text class="lb" x="78.8" y="676.8">-16</text>
<text class="lb" x="78.8" y="710.66">-17</text><text class="lb" x="78.8" y="732.49">-17</text>
<text class="lb" x="78.8" y="766.3">-18</text><text class="lb" x="78.8" y="788.1">-18</text>
<text class="lb" x="78.8" y="822">-19</text><text class="lb" x="78.8" y="843.8">-19</text>
<text class="lb" x="160.2" y="668.9">-23</text><text class="lb" x="160.2" y="718.6">-22</text>
<text class="lb" x="160.2" y="780.2">-21</text><text class="lb" x="160.2" y="829.9">-20</text>
<text class="lb" x="241.6" y="696.7">-26</text><text class="lb" x="241.6" y="802.1">-27</text>
<text class="lb" x="78.8" y="897.3">-35</text><text class="lb" x="78.8" y="925.1">-35</text>
<text class="lb" x="78.8" y="952.96">-36</text><text class="lb" x="78.8" y="980.79">-36</text>
<text class="lb" x="160.2" y="894.3">-31</text><text class="lb" x="160.2" y="916.1">-31</text>
<text class="lb" x="160.2" y="949.96">-32</text><text class="lb" x="160.2" y="971.79">-32</text>
<text class="lb" x="241.6" y="911.2">-30</text><text class="lb" x="241.6" y="966.9">-30</text>
<text class="lb" x="323" y="908.2">-29</text><text class="lb" x="323" y="957.9">-29</text>
<text class="lb" x="78.8" y="1022.3">-38</text><text class="lb" x="78.8" y="1044.1">-38</text>
<text class="lb" x="241.6" y="1022.3">-34</text><text class="lb" x="241.6" y="1044.1">-34</text>
<text class="lb" x="78.8" y="1158">-12</text><text class="lb" x="78.8" y="1172">-13</text>
<text class="lb" x="78.8" y="1213.66">-14</text><text class="lb" x="78.8" y="1227.69">-15</text>
<text class="lb" x="160.2" y="1155">-15</text><text class="lb" x="160.2" y="1176.83">-14</text>
<text class="lb" x="160.2" y="1210.66">-13</text><text class="lb" x="160.2" y="1232.49">-12</text>
<text class="lb" x="241.6" y="1168.9">-18</text><text class="lb" x="241.6" y="1218.6">-19</text>
<text class="lb" x="78.8" y="1282.7">-23</text><text class="lb" x="78.8" y="1304.53">-23</text>
<text class="lb" x="78.8" y="1338.36">-24</text><text class="lb" x="78.8" y="1360.19">-24</text>
<text class="lb" x="160.2" y="1299.6">-22</text><text class="lb" x="160.2" y="1355.3">-22</text>
<text class="lb" x="241.6" y="1296.6">-21</text><text class="lb" x="241.6" y="1346.3">-21</text>
<text class="lb" x="78.8" y="1410.7">-26</text><text class="lb" x="78.8" y="1432.53">-26</text>
</g>

<g id="f1-m1" transform="translate(22.7 640)"><use href="#bx"/><use href="#sT"/><use href="#sB"/><text class="sdt" x="-8.55" y="6.3">1</text><text class="sdt" x="-8.55" y="20.2">16</text><text class="nb" x="3.8" y="6.3">Алешкин А. Г.</text><text class="rt" x="3.8" y="9.8">R:192</text><text class="rt" x="3.8" y="14.3">R:184</text><text class="sco" x="30" y="14.5">3:1</text><text class="mn" x="48.15" y="13">1</text><text class="nn" x="3.8" y="20.8">Коробков А. С.</text></g>
<g id="f1-m2" transform="translate(22.7 667.83)"><use href="#bx"/><use href="#sT"/><use href="#sB"/><text class="sdt" x="-8.55" y="6.3">9</text><text class="sdt" x="-8.55" y="20.2">8</text><text class="nn" x="3.8" y="6.3">Коломийцева О...</text><text class="rt" x="3.8" y="9.8">R:133</text><text class="rt" x="3.8" y="14.3">R:150</text><text class="sco" x="30" y="14.5">0:3</text><text class="mn" x="48.15" y="13">2</text><text class="nb" x="3.8" y="20.8">Кравченко А. А.</text></g>
<g id="f1-m3" transform="translate(22.7 695.66)"><use href="#bx"/><use href="#sT"/><use href="#sB"/><text class="sdt" x="-8.55" y="6.3">5</text><text class="sdt" x="-8.55" y="20.2">12</text><text class="nb" x="3.8" y="6.3">Шахбазян А. Г.</text><text class="rt" x="3.8" y="9.8">R:177</text><text class="rt" x="3.8" y="14.3">R:100</text><text class="sco" x="30" y="14.5">3:1</text><text class="mn" x="48.15" y="13">3</text><text class="nn" x="3.8" y="20.8">Брыкин Т. Г.</text></g>
<g id="f1-m4" transform="translate(22.7 723.49)"><use href="#bx"/><use href="#sT"/><use href="#sB"/><text class="sdt" x="-8.55" y="6.3">13</text><text class="sdt" x="-8.55" y="20.2">4</text><text class="nn" x="3.8" y="6.3">Вакуленко Е. В.</text><text class="rt" x="3.8" y="9.8">R:116</text><text class="rt" x="3.8" y="14.3">R:177</text><text class="sco" x="30" y="14.5">1:3</text><text class="mn" x="48.15" y="13">4</text><text class="nb" x="3.8" y="20.8">Пехов Д. В.</text></g>
<g id="f1-m5" transform="translate(22.7 751.32)"><use href="#bx"/><use href="#sT"/><use href="#sB"/><text class="sdt" x="-8.55" y="6.3">3</text><text class="sdt" x="-8.55" y="20.2">14</text><text class="nb" x="3.8" y="6.3">Царахов А. В.</text><text class="rt" x="3.8" y="9.8">R:181</text><text class="rt" x="3.8" y="14.3">R:119</text><text class="sco" x="30" y="14.5">3:0</text><text class="mn" x="48.15" y="13">5</text><text class="nn" x="3.8" y="20.8">Наводников М...</text></g>
<g id="f1-m6" transform="translate(22.7 779.15)"><use href="#bx"/><use href="#sT"/><use href="#sB"/><text class="sdt" x="-8.55" y="6.3">11</text><text class="sdt" x="-8.55" y="20.2">6</text><text class="nn" x="3.8" y="6.3">Агафонов А. С.</text><text class="rt" x="3.8" y="9.8">R:18</text><text class="rt" x="3.8" y="14.3">R:176</text><text class="sco" x="30" y="14.5">0:3</text><text class="mn" x="48.15" y="13">6</text><text class="nb" x="3.8" y="20.8">Пехова А. Д.</text></g>
<g id="f1-m7" transform="translate(22.7 806.98)"><use href="#bx"/><use href="#sT"/><use href="#sB"/><text class="sdt" x="-8.55" y="6.3">7</text><text class="sdt" x="-8.55" y="20.2">10</text><text class="nb" x="3.8" y="6.3">Бегоев А. Т.</text><text class="rt" x="3.8" y="9.8">R:176</text><text class="rt" x="3.8" y="14.3">R:141</text><text class="sco" x="30" y="14.5">3:2</text><text class="mn" x="48.15" y="13">7</text><text class="nn" x="3.8" y="20.8">Бакулев А. Д.</text></g>
<g id="f1-m8" transform="translate(22.7 834.81)"><use href="#bx"/><use href="#sT"/><use href="#sB"/><text class="sdt" x="-8.55" y="6.3">15</text><text class="sdt" x="-8.55" y="20.2">2</text><text class="nb" x="3.8" y="6.3">Родиков Е. В.</text><text class="rt" x="3.8" y="9.8">R:106</text><text class="rt" x="3.8" y="14.3">R:116</text><text class="sco" x="30" y="14.5">3:2</text><text class="mn" x="48.15" y="13">8</text><text class="nn" x="3.8" y="20.8">Лебединский К...</text></g>
<g id="f1-m9" transform="translate(104.1 653.9)"><use href="#bx"/><text class="nn" x="3.8" y="6.3">Алешкин А. Г.</text><text class="rt" x="3.8" y="9.8">R:192</text><text class="rt" x="3.8" y="14.3">R:150</text><text class="sco" x="30" y="14.5">1:3</text><text class="mn" x="48.15" y="13">9</text><text class="nb" x="3.8" y="20.8">Кравченко А. А.</text></g>
<g id="f1-m10" transform="translate(104.1 709.6)"><use href="#bx"/><text class="nn" x="3.8" y="6.3">Шахбазян А. Г.</text><text class="rt" x="3.8" y="9.8">R:177</text><text class="rt" x="3.8" y="14.3">R:177</text><text class="sco" x="30" y="14.5">0:3</text><text class="mn" x="48.15" y="13">10</text><text class="nb" x="3.8" y="20.8">Пехов Д. В.</text></g>
<g id="f1-m11" transform="translate(104.1 765.2)"><use href="#bx"/><text class="nn" x="3.8" y="6.3">Царахов А. В.</text><text class="rt" x="3.8" y="9.8">R:181</text><text class="rt" x="3.8" y="14.3">R:176</text><text class="sco" x="30" y="14.5">2:3</text><text class="mn" x="48.15" y="13">11</text><text class="nb" x="3.8" y="20.8">Пехова А. Д.</text></g>
<g id="f1-m12" transform="translate(104.1 820.9)"><use href="#bx"/><text class="nb" x="3.8" y="6.3">Бегоев А. Т.</text><text class="rt" x="3.8" y="9.8">R:176</text><text class="rt" x="3.8" y="14.3">R:106</text><text class="sco" x="30" y="14.5">3:0</text><text class="mn" x="48.15" y="13">12</text><text class="nn" x="3.8" y="20.8">Родиков Е. В.</text></g>
<g id="f1-m13" transform="translate(185.5 681.7)"><use href="#bx"/><text class="nb" x="3.8" y="6.3">Кравченко А. А.</text><text class="rt" x="3.8" y="9.8">R:150</text><text class="rt" x="3.8" y="14.3">R:177</text><text class="sco" x="30" y="14.5">3:0</text><text class="mn" x="48.15" y="13">13</text><text class="nn" x="3.8" y="20.8">Пехов Д. В.</text></g>
<g id="f1-m14" transform="translate(185.5 793.1)"><use href="#bx"/><text class="nb" x="3.8" y="6.3">Пехова А. Д.</text><text class="rt" x="3.8" y="9.8">R:176</text><text class="rt" x="3.8" y="14.3">R:176</text><text class="sco" x="30" y="14.5">3:2</text><text class="mn" x="48.15" y="13">14</text><text class="nn" x="3.8" y="20.8">Бегоев А. Т.</text></g>
<g id="f1-m15" transform="translate(266.9 737.4)"><use href="#bx"/><use href="#pT"/><use href="#pB"/><text class="pt" x="55.5" y="5.6">1</text><text class="pt" x="55.5" y="21.9">2</text><text class="nb" x="3.8" y="6.3">Кравченко А. А.</text><text class="rt" x="3.8" y="9.8">R:150</text><text class="rt" x="3.8" y="14.3">R:176</text><text class="sco" x="30" y="14.5">3:0</text><text class="mn" x="48.15" y="13">15</text><text class="nn" x="3.8" y="20.8">Пехова А. Д.</text></g>

<g id="f1-m16" transform="translate(22.7 879.3)"><use href="#bx"/><use href="#sT"/><use href="#sB"/><text class="sdt" x="-8.55" y="6.3">-1</text><text class="sdt" x="-8.55" y="20.2">-2</text><text class="nb" x="3.8" y="6.3">Коробков А. С.</text><text class="rt" x="3.8" y="9.8">R:184</text><text class="rt" x="3.8" y="14.3">R:133</text><text class="sco" x="30" y="14.5">3:0</text><text class="mn" x="48.15" y="13">16</text><text class="nn" x="3.8" y="20.8">Коломийцева О...</text></g>
<g id="f1-m17" transform="translate(22.7 907.13)"><use href="#bx"/><use href="#sT"/><use href="#sB"/><text class="sdt" x="-8.55" y="6.3">-3</text><text class="sdt" x="-8.55" y="20.2">-4</text><text class="nn" x="3.8" y="6.3">Брыкин Т. Г.</text><text class="rt" x="3.8" y="9.8">R:100</text><text class="rt" x="3.8" y="14.3">R:116</text><text class="sco" x="30" y="14.5">2:3</text><text class="mn" x="48.15" y="13">17</text><text class="nb" x="3.8" y="20.8">Вакуленко Е. В.</text></g>
<g id="f1-m18" transform="translate(22.7 934.96)"><use href="#bx"/><use href="#sT"/><use href="#sB"/><text class="sdt" x="-8.55" y="6.3">-5</text><text class="sdt" x="-8.55" y="20.2">-6</text><text class="nb" x="3.8" y="6.3">Наводников М...</text><text class="rt" x="3.8" y="9.8">R:119</text><text class="rt" x="3.8" y="14.3">R:18</text><text class="sco" x="30" y="14.5">3:0</text><text class="mn" x="48.15" y="13">18</text><text class="nn" x="3.8" y="20.8">Агафонов А. С.</text></g>
<g id="f1-m19" transform="translate(22.7 962.79)"><use href="#bx"/><use href="#sT"/><use href="#sB"/><text class="sdt" x="-8.55" y="6.3">-7</text><text class="sdt" x="-8.55" y="20.2">-8</text><text class="nn" x="3.8" y="6.3">Бакулев А. Д.</text><text class="rt" x="3.8" y="9.8">R:141</text><text class="rt" x="3.8" y="14.3">R:116</text><text class="sco" x="30" y="14.5">2:3</text><text class="mn" x="48.15" y="13">19</text><text class="nb" x="3.8" y="20.8">Лебединский К...</text></g>
<g id="f1-m20" transform="translate(104.1 879.3)"><use href="#bx"/><use href="#sT"/><text class="sdt" x="-8.55" y="6.3">-12</text><text class="nn" x="3.8" y="6.3">Родиков Е. В.</text><text class="rt" x="3.8" y="9.8">R:106</text><text class="rt" x="3.8" y="14.3">R:184</text><text class="sco" x="30" y="14.5">2:3</text><text class="mn" x="48.15" y="13">20</text><text class="nb" x="3.8" y="20.8">Коробков А. С.</text></g>
<g id="f1-m21" transform="translate(104.1 907.13)"><use href="#bx"/><use href="#sT"/><text class="sdt" x="-8.55" y="6.3">-11</text><text class="nb" x="3.8" y="6.3">Царахов А. В.</text><text class="rt" x="3.8" y="9.8">R:181</text><text class="rt" x="3.8" y="14.3">R:116</text><text class="sco" x="30" y="14.5">3:0</text><text class="mn" x="48.15" y="13">21</text><text class="nn" x="3.8" y="20.8">Вакуленко Е. В.</text></g>
<g id="f1-m22" transform="translate(104.1 934.96)"><use href="#bx"/><use href="#sT"/><text class="sdt" x="-8.55" y="6.3">-10</text><text class="nb" x="3.8" y="6.3">Шахбазян А. Г.</text><text class="rt" x="3.8" y="9.8">R:177</text><text class="rt" x="3.8" y="14.3">R:119</text><text class="sco" x="30" y="14.5">3:0</text><text class="mn" x="48.15" y="13">22</text><text class="nn" x="3.8" y="20.8">Наводников М...</text></g>
<g id="f1-m23" transform="translate(104.1 962.79)"><use href="#bx"/><use href="#sT"/><text class="sdt" x="-8.55" y="6.3">-9</text><text class="nb" x="3.8" y="6.3">Алешкин А. Г.</text><text class="rt" x="3.8" y="9.8">R:192</text><text class="rt" x="3.8" y="14.3">R:116</text><text class="sco" x="30" y="14.5">3:1</text><text class="mn" x="48.15" y="13">23</text><text class="nn" x="3.8" y="20.8">Лебединский К...</text></g>
<g id="f1-m24" transform="translate(185.5 893.2)"><use href="#bx"/><text class="nb" x="3.8" y="6.3">Коробков А. С.</text><text class="rt" x="3.8" y="9.8">R:184</text><text class="rt" x="3.8" y="14.3">R:181</text><text class="sco" x="30" y="14.5">3:2</text><text class="mn" x="48.15" y="13">24</text><text class="nn" x="3.8" y="20.8">Царахов А. В.</text></g>
<g id="f1-m25" transform="translate(185.5 948.9)"><use href="#bx"/><text class="nn" x="3.8" y="6.3">Шахбазян А. Г.</text><text class="rt" x="3.8" y="9.8">R:177</text><text class="rt" x="3.8" y="14.3">R:192</text><text class="sco" x="30" y="14.5">2:3</text><text class="mn" x="48.15" y="13">25</text><text class="nb" x="3.8" y="20.8">Алешкин А. Г.</text></g>
<g id="f1-m26" transform="translate(266.9 893.2)"><use href="#bx"/><use href="#sT"/><text class="sdt" x="-8.55" y="6.3">-13</text><text class="nb" x="3.8" y="6.3">Пехов Д. В.</text><text class="rt" x="3.8" y="9.8">R:177</text><text class="rt" x="3.8" y="14.3">R:184</text><text class="sco" x="30" y="14.5">3:2</text><text class="mn" x="48.15" y="13">26</text><text class="nn" x="3.8" y="20.8">Коробков А. С.</text></g>
<g id="f1-m27" transform="translate(266.9 948.9)"><use href="#bx"/><use href="#sT"/><text class="sdt" x="-8.55" y="6.3">-14</text><text class="nn" x="3.8" y="6.3">Бегоев А. Т.</text><text class="rt" x="3.8" y="9.8">R:176</text><text class="rt" x="3.8" y="14.3">R:192</text><text class="sco" x="30" y="14.5">0:3</text><text class="mn" x="48.15" y="13">27</text><text class="nb" x="3.8" y="20.8">Алешкин А. Г.</text></g>
<g id="f1-m28" transform="translate(348.5 921.05)"><use href="#bx"/><use href="#pT"/><use href="#pB"/><text class="pt" x="55.5" y="5.6">4</text><text class="pt" x="55.5" y="21.9">3</text><text class="nn" x="3.8" y="6.3">Пехов Д. В.</text><text class="rt" x="3.8" y="9.8">R:177</text><text class="rt" x="3.8" y="14.3">R:192</text><text class="sco" x="30" y="14.5">2:3</text><text class="mn" x="48.15" y="13">28</text><text class="nb" x="3.8" y="20.8">Алешкин А. Г.</text></g>

<g id="f1-m35" transform="translate(22.7 1007.3)"><use href="#bx"/><use href="#sT"/><use href="#sB"/><text class="sdt" x="-8.55" y="6.3">-16</text><text class="sdt" x="-8.55" y="20.2">-17</text><text class="nn" x="3.8" y="6.3">Коломийцева О...</text><text class="rt" x="3.8" y="9.8">R:133</text><text class="rt" x="3.8" y="14.3">R:100</text><text class="sco" x="30" y="14.5">2:3</text><text class="mn" x="48.15" y="13">35</text><text class="nb" x="3.8" y="20.8">Брыкин Т. Г.</text></g>
<g id="f1-m36" transform="translate(22.7 1035.13)"><use href="#bx"/><use href="#sT"/><use href="#sB"/><text class="sdt" x="-8.55" y="6.3">-18</text><text class="sdt" x="-8.55" y="20.2">-19</text><text class="nn" x="3.8" y="6.3">Агафонов А. С.</text><text class="rt" x="3.8" y="9.8">R:18</text><text class="rt" x="3.8" y="14.3">R:141</text><text class="sco" x="30" y="14.5">1:3</text><text class="mn" x="48.15" y="13">36</text><text class="nb" x="3.8" y="20.8">Бакулев А. Д.</text></g>
<g id="f1-m37" transform="translate(104.1 1021.2)"><use href="#bx"/><use href="#pT"/><use href="#pB"/><text class="pt" x="55.5" y="5.6">14</text><text class="pt" x="55.5" y="21.9">13</text><text class="nn" x="3.8" y="6.3">Брыкин Т. Г.</text><text class="rt" x="3.8" y="9.8">R:100</text><text class="rt" x="3.8" y="14.3">R:141</text><text class="sco" x="30" y="14.5">2:3</text><text class="mn" x="48.15" y="13">37</text><text class="nb" x="3.8" y="20.8">Бакулев А. Д.</text></g>
<g id="f1-m31" transform="translate(185.5 1007.3)"><use href="#bx"/><use href="#sT"/><use href="#sB"/><text class="sdt" x="-8.55" y="6.3">-20</text><text class="sdt" x="-8.55" y="20.2">-21</text><text class="nb" x="3.8" y="6.3">Родиков Е. В.</text><text class="rt" x="3.8" y="9.8">R:106</text><text class="rt" x="3.8" y="14.3">R:116</text><text class="sco" x="30" y="14.5">3:0</text><text class="mn" x="48.15" y="13">31</text><text class="nn" x="3.8" y="20.8">Вакуленко Е. В.</text></g>
<g id="f1-m32" transform="translate(185.5 1035.13)"><use href="#bx"/><use href="#sT"/><use href="#sB"/><text class="sdt" x="-8.55" y="6.3">-22</text><text class="sdt" x="-8.55" y="20.2">-23</text><text class="nn" x="3.8" y="6.3">Наводников М...</text><text class="rt" x="3.8" y="9.8">R:119</text><text class="rt" x="3.8" y="14.3">R:116</text><text class="sco" x="30" y="14.5">1:3</text><text class="mn" x="48.15" y="13">32</text><text class="nb" x="3.8" y="20.8">Лебединский К...</text></g>
<g id="f1-m33" transform="translate(266.9 1021.2)"><use href="#bx"/><use href="#pT"/><use href="#pB"/><text class="pt" x="55.5" y="5.6">10</text><text class="pt" x="55.5" y="21.9">9</text><text class="nn" x="3.8" y="6.3">Родиков Е. В.</text><text class="rt" x="3.8" y="9.8">R:106</text><text class="rt" x="3.8" y="14.3">R:116</text><text class="sco" x="30" y="14.5">1:3</text><text class="mn" x="48.15" y="13">33</text><text class="nb" x="3.8" y="20.8">Лебединский К...</text></g>
<g id="f1-m29" transform="translate(348.5 1007.3)"><use href="#bx"/><use href="#sT"/><use href="#sB"/><use href="#pT"/><use href="#pB"/><text class="sdt" x="-8.55" y="6.3">-26</text><text class="sdt" x="-8.55" y="20.2">-27</text><text class="pt" x="55.5" y="5.6">6</text><text class="pt" x="55.5" y="21.9">5</text><text class="nn" x="3.8" y="6.3">Коробков А. С.</text><text class="rt" x="3.8" y="9.8">R:184</text><text class="rt" x="3.8" y="14.3">R:176</text><text class="sco" x="30" y="14.5">0:3</text><text class="mn" x="48.15" y="13">29</text><text class="nb" x="3.8" y="20.8">Бегоев А. Т.</text></g>
<g id="f1-m38" transform="translate(22.7 1079.3)"><use href="#bx"/><use href="#sT"/><use href="#sB"/><use href="#pT"/><use href="#pB"/><text class="sdt" x="-8.55" y="6.3">-35</text><text class="sdt" x="-8.55" y="20.2">-36</text><text class="pt" x="55.5" y="5.6">15</text><text class="pt" x="55.5" y="21.9">16</text><text class="nb" x="3.8" y="6.3">Коломийцева О...</text><text class="rt" x="3.8" y="9.8">R:133</text><text class="rt" x="3.8" y="14.3">R:18</text><text class="sco" x="30" y="14.5">3:0</text><text class="mn" x="48.15" y="13">38</text><text class="nn" x="3.8" y="20.8">Агафонов А. С.</text></g>
<g id="f1-m34" transform="translate(104.1 1079.3)"><use href="#bx"/><use href="#sT"/><use href="#sB"/><use href="#pT"/><use href="#pB"/><text class="sdt" x="-8.55" y="6.3">-31</text><text class="sdt" x="-8.55" y="20.2">-32</text><text class="pt" x="55.5" y="5.6">12</text><text class="pt" x="55.5" y="21.9">11</text><text class="nn" x="3.8" y="6.3">Вакуленко Е. В.</text><text class="rt" x="3.8" y="9.8">R:116</text><text class="rt" x="3.8" y="14.3">R:119</text><text class="sco" x="30" y="14.5">2:3</text><text class="mn" x="48.15" y="13">34</text><text class="nb" x="3.8" y="20.8">Наводников М...</text></g>
<g id="f1-m30" transform="translate(185.5 1079.3)"><use href="#bx"/><use href="#sT"/><use href="#sB"/><use href="#pT"/><use href="#pB"/><text class="sdt" x="-8.55" y="6.3">-24</text><text class="sdt" x="-8.55" y="20.2">-25</text><text class="pt" x="55.5" y="5.6">7</text><text class="pt" x="55.5" y="21.9">8</text><text class="nb" x="3.8" y="6.3">Царахов А. В.</text><text class="rt" x="3.8" y="9.8">R:181</text><text class="rt" x="3.8" y="14.3">R:177</text><text class="sco" x="30" y="14.5">3:1</text><text class="mn" x="48.15" y="13">30</text><text class="nn" x="3.8" y="20.8">Шахбазян А. Г.</text></g>

<g id="f2-m1" transform="translate(22.7 1140)"><use href="#bx"/><use href="#sT"/><use href="#sB"/><text class="sdt" x="-8.55" y="6.3">9</text><text class="sdt" x="-8.55" y="20.2">8</text><text class="nb" x="3.8" y="6.3">Еременко М. В.</text><text class="rt" x="3.8" y="9.8">R:96</text><text class="rt" x="3.8" y="14.3">R:98</text><text class="sco" x="30" y="14.5">3:0</text><text class="mn" x="48.15" y="13">1</text><text class="nn" x="3.8" y="20.8">Нагорный И. В.</text></g>
<g id="f2-m2" transform="translate(22.7 1167.83)"><use href="#bx"/><use href="#sT"/><use href="#sB"/><text class="sdt" x="-8.55" y="6.3">5</text><text class="sdt" x="-8.55" y="20.2">12</text><text class="nb" x="3.8" y="6.3">Иващенко Д. А.</text><text class="rt" x="3.8" y="9.8">R:120</text><text class="rt" x="3.8" y="14.3">R:93</text><text class="sco" x="30" y="14.5">3:0</text><text class="mn" x="48.15" y="13">2</text><text class="nn" x="3.8" y="20.8">Хоцоян А. Г.</text></g>
<g id="f2-m3" transform="translate(22.7 1195.66)"><use href="#bx"/><use href="#sT"/><use href="#sB"/><text class="sdt" x="-8.55" y="6.3">11</text><text class="sdt" x="-8.55" y="20.2">6</text><text class="nn" x="3.8" y="6.3">Руденко К. И.</text><text class="rt" x="3.8" y="9.8">R:100</text><text class="rt" x="3.8" y="14.3">R:122</text><text class="sco" x="30" y="14.5">1:3</text><text class="mn" x="48.15" y="13">3</text><text class="nb" x="3.8" y="20.8">Епифанов А. В.</text></g>
<g id="f2-m4" transform="translate(22.7 1223.49)"><use href="#bx"/><use href="#sT"/><use href="#sB"/><text class="sdt" x="-8.55" y="6.3">7</text><text class="sdt" x="-8.55" y="20.2">10</text><text class="nb" x="3.8" y="6.3">Шувалов Д. В.</text><text class="rt" x="3.8" y="9.8">R:98</text><text class="rt" x="3.8" y="14.3">R:96</text><text class="sco" x="30" y="14.5">3:0</text><text class="mn" x="48.15" y="13">4</text><text class="nn" x="3.8" y="20.8">Дорофеев Д. И.</text></g>
<g id="f2-m5" transform="translate(104.1 1140)"><use href="#bx"/><use href="#sT"/><text class="sdt" x="-8.55" y="6.3">1</text><text class="nb" x="3.8" y="6.3">Сошников Д. А.</text><text class="rt" x="3.8" y="9.8">R:116</text><text class="rt" x="3.8" y="14.3">R:96</text><text class="sco" x="30" y="14.5">3:1</text><text class="mn" x="48.15" y="13">5</text><text class="nn" x="3.8" y="20.8">Еременко М. В.</text></g>
<g id="f2-m6" transform="translate(104.1 1167.83)"><use href="#bx"/><use href="#sB"/><text class="sdt" x="-8.55" y="20.2">4</text><text class="nb" x="3.8" y="6.3">Иващенко Д. А.</text><text class="rt" x="3.8" y="9.8">R:120</text><text class="rt" x="3.8" y="14.3">R:103</text><text class="sco" x="30" y="14.5">3:1</text><text class="mn" x="48.15" y="13">6</text><text class="nn" x="3.8" y="20.8">Лифиренко Н. С.</text></g>
<g id="f2-m7" transform="translate(104.1 1195.66)"><use href="#bx"/><use href="#sT"/><text class="sdt" x="-8.55" y="6.3">3</text><text class="nn" x="3.8" y="6.3">Жернаков А. В.</text><text class="rt" x="3.8" y="9.8">R:100</text><text class="rt" x="3.8" y="14.3">R:122</text><text class="sco" x="30" y="14.5">0:3</text><text class="mn" x="48.15" y="13">7</text><text class="nb" x="3.8" y="20.8">Епифанов А. В.</text></g>
<g id="f2-m8" transform="translate(104.1 1223.49)"><use href="#bx"/><use href="#sB"/><text class="sdt" x="-8.55" y="20.2">2</text><text class="nn" x="3.8" y="6.3">Шувалов Д. В.</text><text class="rt" x="3.8" y="9.8">R:98</text><text class="rt" x="3.8" y="14.3">R:104</text><text class="sco" x="30" y="14.5">2:3</text><text class="mn" x="48.15" y="13">8</text><text class="nb" x="3.8" y="20.8">Рисков С. В.</text></g>
<g id="f2-m9" transform="translate(185.5 1153.9)"><use href="#bx"/><text class="nb" x="3.8" y="6.3">Сошников Д. А.</text><text class="rt" x="3.8" y="9.8">R:116</text><text class="rt" x="3.8" y="14.3">R:120</text><text class="sco" x="30" y="14.5">3:2</text><text class="mn" x="48.15" y="13">9</text><text class="nn" x="3.8" y="20.8">Иващенко Д. А.</text></g>
<g id="f2-m10" transform="translate(185.5 1209.6)"><use href="#bx"/><text class="nn" x="3.8" y="6.3">Епифанов А. В.</text><text class="rt" x="3.8" y="9.8">R:122</text><text class="rt" x="3.8" y="14.3">R:104</text><text class="sco" x="30" y="14.5">0:3</text><text class="mn" x="48.15" y="13">10</text><text class="nb" x="3.8" y="20.8">Рисков С. В.</text></g>
<g id="f2-m11" transform="translate(266.9 1181.7)"><use href="#bx"/><use href="#pT"/><use href="#pB"/><text class="pt" x="55.5" y="5.6">2</text><text class="pt" x="55.5" y="21.9">1</text><text class="nn" x="3.8" y="6.3">Сошников Д. А.</text><text class="rt" x="3.8" y="9.8">R:116</text><text class="rt" x="3.8" y="14.3">R:104</text><text class="sco" x="30" y="14.5">2:3</text><text class="mn" x="48.15" y="13">11</text><text class="nb" x="3.8" y="20.8">Рисков С. В.</text></g>

<g id="f2-m12" transform="translate(22.7 1267.7)"><use href="#bx"/><use href="#sT"/><use href="#sB"/><text class="sdt" x="-8.55" y="6.3">-8</text><text class="sdt" x="-8.55" y="20.2">-1</text><text class="nn" x="3.8" y="6.3">Шувалов Д. В.</text><text class="rt" x="3.8" y="9.8">R:98</text><text class="rt" x="3.8" y="14.3">R:98</text><text class="sco" x="30" y="14.5">1:3</text><text class="mn" x="48.15" y="13">12</text><text class="nb" x="3.8" y="20.8">Нагорный И. В.</text></g>
<g id="f2-m13" transform="translate(22.7 1295.53)"><use href="#bx"/><use href="#sT"/><use href="#sB"/><text class="sdt" x="-8.55" y="6.3">-7</text><text class="sdt" x="-8.55" y="20.2">-2</text><text class="nb" x="3.8" y="6.3">Жернаков А. В.</text><text class="rt" x="3.8" y="9.8">R:100</text><text class="rt" x="3.8" y="14.3">R:93</text><text class="sco" x="30" y="14.5">3:0</text><text class="mn" x="48.15" y="13">13</text><text class="nn" x="3.8" y="20.8">Хоцоян А. Г.</text></g>
<g id="f2-m14" transform="translate(22.7 1323.36)"><use href="#bx"/><use href="#sT"/><use href="#sB"/><text class="sdt" x="-8.55" y="6.3">-6</text><text class="sdt" x="-8.55" y="20.2">-3</text><text class="nb" x="3.8" y="6.3">Лифиренко Н. С.</text><text class="rt" x="3.8" y="9.8">R:103</text><text class="rt" x="3.8" y="14.3">R:100</text><text class="sco" x="30" y="14.5">3:0</text><text class="mn" x="48.15" y="13">14</text><text class="nn" x="3.8" y="20.8">Руденко К. И.</text></g>
<g id="f2-m15" transform="translate(22.7 1351.19)"><use href="#bx"/><use href="#sT"/><use href="#sB"/><text class="sdt" x="-8.55" y="6.3">-5</text><text class="sdt" x="-8.55" y="20.2">-4</text><text class="nb" x="3.8" y="6.3">Еременко М. В.</text><text class="rt" x="3.8" y="9.8">R:96</text><text class="rt" x="3.8" y="14.3">R:96</text><text class="sco" x="30" y="14.5">3:0</text><text class="mn" x="48.15" y="13">15</text><text class="nn" x="3.8" y="20.8">Дорофеев Д. И.</text></g>
<g id="f2-m16" transform="translate(104.1 1281.6)"><use href="#bx"/><text class="nb" x="3.8" y="6.3">Нагорный И. В.</text><text class="rt" x="3.8" y="9.8">R:98</text><text class="rt" x="3.8" y="14.3">R:100</text><text class="sco" x="30" y="14.5">3:2</text><text class="mn" x="48.15" y="13">16</text><text class="nn" x="3.8" y="20.8">Жернаков А. В.</text></g>
<g id="f2-m17" transform="translate(104.1 1337.3)"><use href="#bx"/><text class="nn" x="3.8" y="6.3">Лифиренко Н. С.</text><text class="rt" x="3.8" y="9.8">R:103</text><text class="rt" x="3.8" y="14.3">R:96</text><text class="sco" x="30" y="14.5">2:3</text><text class="mn" x="48.15" y="13">17</text><text class="nb" x="3.8" y="20.8">Еременко М. В.</text></g>
<g id="f2-m18" transform="translate(185.5 1281.6)"><use href="#bx"/><use href="#sT"/><text class="sdt" x="-8.55" y="6.3">-9</text><text class="nb" x="3.8" y="6.3">Иващенко Д. А.</text><text class="rt" x="3.8" y="9.8">R:120</text><text class="rt" x="3.8" y="14.3">R:98</text><text class="sco" x="30" y="14.5">3:0</text><text class="mn" x="48.15" y="13">18</text><text class="nn" x="3.8" y="20.8">Нагорный И. В.</text></g>
<g id="f2-m19" transform="translate(185.5 1337.3)"><use href="#bx"/><use href="#sT"/><text class="sdt" x="-8.55" y="6.3">-10</text><text class="nb" x="3.8" y="6.3">Епифанов А. В.</text><text class="rt" x="3.8" y="9.8">R:122</text><text class="rt" x="3.8" y="14.3">R:96</text><text class="sco" x="30" y="14.5">3:1</text><text class="mn" x="48.15" y="13">19</text><text class="nn" x="3.8" y="20.8">Еременко М. В.</text></g>
<g id="f2-m20" transform="translate(266.9 1309.4)"><use href="#bx"/><use href="#pT"/><use href="#pB"/><text class="pt" x="55.5" y="5.6">4</text><text class="pt" x="55.5" y="21.9">3</text><text class="nn" x="3.8" y="6.3">Иващенко Д. А.</text><text class="rt" x="3.8" y="9.8">R:120</text><text class="rt" x="3.8" y="14.3">R:122</text><text class="sco" x="30" y="14.5">2:3</text><text class="mn" x="48.15" y="13">20</text><text class="nb" x="3.8" y="20.8">Епифанов А. В.</text></g>

<g id="f2-m23" transform="translate(22.7 1395.7)"><use href="#bx"/><use href="#sT"/><use href="#sB"/><text class="sdt" x="-8.55" y="6.3">-12</text><text class="sdt" x="-8.55" y="20.2">-13</text><text class="nn" x="3.8" y="6.3">Шувалов Д. В.</text><text class="rt" x="3.8" y="9.8">R:98</text><text class="rt" x="3.8" y="14.3">R:93</text><text class="sco" x="30" y="14.5">1:3</text><text class="mn" x="48.15" y="13">23</text><text class="nb" x="3.8" y="20.8">Хоцоян А. Г.</text></g>
<g id="f2-m24" transform="translate(22.7 1423.53)"><use href="#bx"/><use href="#sT"/><use href="#sB"/><text class="sdt" x="-8.55" y="6.3">-14</text><text class="sdt" x="-8.55" y="20.2">-15</text><text class="nb" x="3.8" y="6.3">Руденко К. И.</text><text class="rt" x="3.8" y="9.8">R:100</text><text class="rt" x="3.8" y="14.3">R:96</text><text class="sco" x="30" y="14.5">3:1</text><text class="mn" x="48.15" y="13">24</text><text class="nn" x="3.8" y="20.8">Дорофеев Д. И.</text></g>
<g id="f2-m25" transform="translate(104.1 1409.6)"><use href="#bx"/><use href="#pT"/><use href="#pB"/><text class="pt" x="55.5" y="5.6">9</text><text class="pt" x="55.5" y="21.9">10</text><text class="nb" x="3.8" y="6.3">Хоцоян А. Г.</text><text class="rt" x="3.8" y="9.8">R:93</text><text class="rt" x="3.8" y="14.3">R:100</text><text class="sco" x="30" y="14.5">3:1</text><text class="mn" x="48.15" y="13">25</text><text class="nn" x="3.8" y="20.8">Руденко К. И.</text></g>
<g id="f2-m22" transform="translate(185.5 1395.7)"><use href="#bx"/><use href="#sT"/><use href="#sB"/><use href="#pT"/><use href="#pB"/><text class="sdt" x="-8.55" y="6.3">-16</text><text class="sdt" x="-8.55" y="20.2">-17</text><text class="pt" x="55.5" y="5.6">8</text><text class="pt" x="55.5" y="21.9">7</text><text class="nn" x="3.8" y="6.3">Жернаков А. В.</text><text class="rt" x="3.8" y="9.8">R:100</text><text class="rt" x="3.8" y="14.3">R:103</text><text class="sco" x="30" y="14.5">1:3</text><text class="mn" x="48.15" y="13">22</text><text class="nb" x="3.8" y="20.8">Лифиренко Н. С.</text></g>
<g id="f2-m21" transform="translate(266.9 1395.7)"><use href="#bx"/><use href="#sT"/><use href="#sB"/><use href="#pT"/><use href="#pB"/><text class="sdt" x="-8.55" y="6.3">-18</text><text class="sdt" x="-8.55" y="20.2">-19</text><text class="pt" x="55.5" y="5.6">6</text><text class="pt" x="55.5" y="21.9">5</text><text class="nn" x="3.8" y="6.3">Нагорный И. В.</text><text class="rt" x="3.8" y="9.8">R:98</text><text class="rt" x="3.8" y="14.3">R:96</text><text class="sco" x="30" y="14.5">1:3</text><text class="mn" x="48.15" y="13">21</text><text class="nb" x="3.8" y="20.8">Еременко М. В.</text></g>
<g id="f2-m26" transform="translate(22.7 1467.7)"><use href="#bx"/><use href="#sT"/><use href="#sB"/><use href="#pT"/><use href="#pB"/><text class="sdt" x="-8.55" y="6.3">-23</text><text class="sdt" x="-8.55" y="20.2">-24</text><text class="pt" x="55.5" y="5.6">11</text><text class="pt" x="55.5" y="21.9">12</text><text class="nb" x="3.8" y="6.3">Шувалов Д. В.</text><text class="rt" x="3.8" y="9.8">R:98</text><text class="rt" x="3.8" y="14.3">R:96</text><text class="sco" x="30" y="14.5">3:0</text><text class="mn" x="48.15" y="13">26</text><text class="nn" x="3.8" y="20.8">Дорофеев Д. И.</text></g>
</svg>
